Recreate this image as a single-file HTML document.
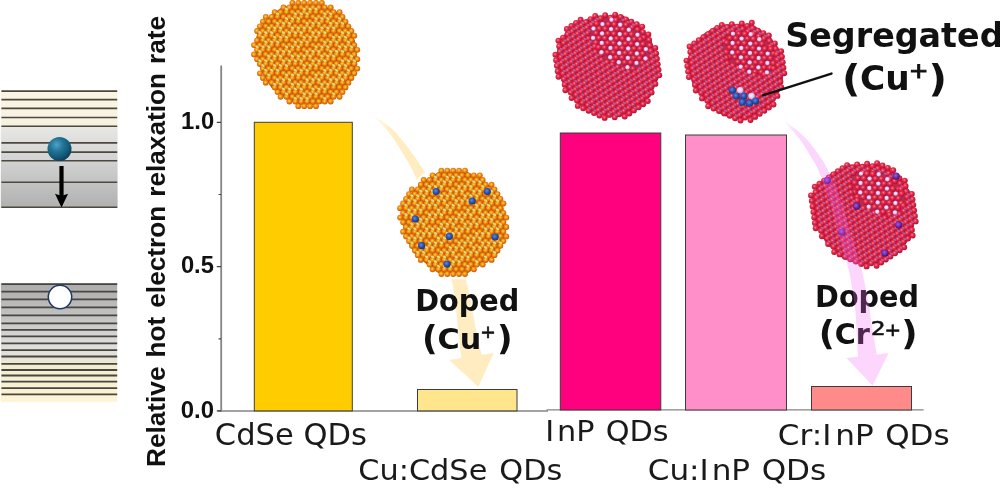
<!DOCTYPE html>
<html lang="en"><head><meta charset="utf-8"><title>Relative hot electron relaxation rate</title>
<style>
html,body{margin:0;padding:0;background:#fff;}
body{width:1000px;height:488px;overflow:hidden;}
svg{display:block;}
.ax{font-family:"Liberation Sans","DejaVu Sans",sans-serif;font-weight:bold;fill:#111;}
.lab{font-family:"DejaVu Sans","Liberation Sans",sans-serif;fill:#1a1a1a;}
.ann{font-family:"DejaVu Sans","Liberation Sans",sans-serif;font-weight:bold;fill:#111;}

.sup2{font-family:"DejaVu Sans","Liberation Sans",sans-serif;fill:#111;stroke:#111;stroke-width:1.1px;}
.sup{font-family:"DejaVu Sans","Liberation Sans",sans-serif;fill:#111;stroke:#111;stroke-width:0.6px;}
</style></head><body>
<svg width="1000" height="488" viewBox="0 0 1000 488">
<defs>
<linearGradient id="gt" x1="0" y1="0" x2="0" y2="1"><stop offset="0" stop-color="#fbf6e4"/><stop offset="0.29" stop-color="#f6f1e0"/><stop offset="0.33" stop-color="#e6e6e3"/><stop offset="0.6" stop-color="#d2d2d2"/><stop offset="1" stop-color="#b0b0b0"/></linearGradient>
<linearGradient id="gb" x1="0" y1="0" x2="0" y2="1"><stop offset="0" stop-color="#acacac"/><stop offset="0.3" stop-color="#c4c4c4"/><stop offset="0.5" stop-color="#dcdcdc"/><stop offset="0.62" stop-color="#e4e2d8"/><stop offset="0.7" stop-color="#f2ecd2"/><stop offset="1" stop-color="#fff5d6"/></linearGradient>
<radialGradient id="gball" cx="0.38" cy="0.33" r="0.68"><stop offset="0" stop-color="#4fa3c8"/><stop offset="0.4" stop-color="#237598"/><stop offset="0.8" stop-color="#125776"/><stop offset="1" stop-color="#0b405a"/></radialGradient>
<radialGradient id="go" cx="0.45" cy="0.42" r="0.58"><stop offset="0" stop-color="#ffd648"/><stop offset="0.28" stop-color="#fbaa22"/><stop offset="0.62" stop-color="#e67a0e"/><stop offset="1" stop-color="#c45a06"/></radialGradient>
<radialGradient id="gr" cx="0.42" cy="0.38" r="0.62"><stop offset="0" stop-color="#ff98a2"/><stop offset="0.18" stop-color="#f85870"/><stop offset="0.42" stop-color="#e42a4a"/><stop offset="0.75" stop-color="#cc1a3c"/><stop offset="1" stop-color="#9c1034"/></radialGradient>
<radialGradient id="gbl" cx="0.42" cy="0.4" r="0.6"><stop offset="0" stop-color="#5a8ae0"/><stop offset="0.6" stop-color="#2450b0"/><stop offset="1" stop-color="#163680"/></radialGradient>
<radialGradient id="gp" cx="0.42" cy="0.4" r="0.6"><stop offset="0" stop-color="#a060d8"/><stop offset="0.6" stop-color="#6a28a8"/><stop offset="1" stop-color="#401070"/></radialGradient>
<circle id="o" r="2.9" fill="url(#go)"/>
<ellipse id="g" rx="1.9" ry="1.2" transform="rotate(30)" fill="#d8dc80"/>
<circle id="r" r="2.95" fill="url(#gr)"/>
<ellipse id="l" rx="1.7" ry="1.0" transform="rotate(24)" fill="#ac64a0"/>
<radialGradient id="gL" cx="0.45" cy="0.42" r="0.6"><stop offset="0" stop-color="#fbf2ff"/><stop offset="0.6" stop-color="#e4c8f4"/><stop offset="1" stop-color="#b890d0"/></radialGradient>
<circle id="L" r="2.2" fill="url(#gL)"/>
<circle id="b" r="3.6" fill="url(#gbl)"/>
<circle id="lb" r="3.3" fill="url(#gL)"/>
<circle id="p" r="3.6" fill="url(#gp)"/>
<linearGradient id="gy" gradientUnits="userSpaceOnUse" x1="373" y1="114" x2="400" y2="146"><stop offset="0" stop-color="#ffecc0" stop-opacity="0.1"/><stop offset="0.5" stop-color="#ffecc0" stop-opacity="0.85"/><stop offset="1" stop-color="#ffecc0" stop-opacity="1"/></linearGradient>
<linearGradient id="gpk" gradientUnits="userSpaceOnUse" x1="784" y1="120" x2="806" y2="146"><stop offset="0" stop-color="#f466f4" stop-opacity="0.03"/><stop offset="0.4" stop-color="#f466f4" stop-opacity="0.22"/><stop offset="1" stop-color="#f466f4" stop-opacity="0.27"/></linearGradient>
</defs>

<!-- energy level diagram -->
<rect x="0.8" y="90.3" width="116.8" height="117.6" fill="url(#gt)"/>
<g stroke="#4c4840" stroke-width="1.6"><line x1="1.4" x2="117.2" y1="91.1" y2="91.1"/><line x1="1.4" x2="117.2" y1="99.6" y2="99.6"/><line x1="1.4" x2="117.2" y1="108.4" y2="108.4"/><line x1="1.4" x2="117.2" y1="117.5" y2="117.5"/><line x1="1.4" x2="117.2" y1="126.3" y2="126.3"/><line x1="1.4" x2="117.2" y1="142.9" y2="142.9"/><line x1="1.4" x2="117.2" y1="152.1" y2="152.1"/><line x1="1.4" x2="117.2" y1="160.8" y2="160.8"/><line x1="1.4" x2="117.2" y1="182.2" y2="182.2"/><line x1="1.4" x2="117.2" y1="207.2" y2="207.2"/></g>
<rect x="0.8" y="283.3" width="116.4" height="118.6" fill="url(#gb)"/>
<g stroke="#48463f" stroke-width="1.8"><line x1="1.4" x2="117.2" y1="284.2" y2="284.2"/><line x1="1.4" x2="117.2" y1="291.7" y2="291.7"/><line x1="1.4" x2="117.2" y1="299.3" y2="299.3"/><line x1="1.4" x2="117.2" y1="307.3" y2="307.3"/><line x1="1.4" x2="117.2" y1="315.4" y2="315.4"/><line x1="1.4" x2="117.2" y1="323.3" y2="323.3"/><line x1="1.4" x2="117.2" y1="329.9" y2="329.9"/><line x1="1.4" x2="117.2" y1="336.4" y2="336.4"/><line x1="1.4" x2="117.2" y1="343.3" y2="343.3"/><line x1="1.4" x2="117.2" y1="350.1" y2="350.1"/><line x1="1.4" x2="117.2" y1="356.5" y2="356.5"/><line x1="1.4" x2="117.2" y1="363.8" y2="363.8"/><line x1="1.4" x2="117.2" y1="370" y2="370"/><line x1="1.4" x2="117.2" y1="375.5" y2="375.5"/><line x1="1.4" x2="117.2" y1="381.7" y2="381.7"/><line x1="1.4" x2="117.2" y1="388.1" y2="388.1"/><line x1="1.4" x2="117.2" y1="394.3" y2="394.3"/></g>
<circle cx="59.5" cy="148.9" r="12" fill="url(#gball)"/>
<path d="M59.4 166 H63.6 V195.2 L68.1 193.8 L61.5 207.4 L55 193.8 L59.4 195.2 Z" fill="#000"/>
<circle cx="60" cy="297" r="11.7" fill="#fff" stroke="#1f3864" stroke-width="1.5"/>

<!-- axes -->
<g stroke="#858585" fill="none">
<path d="M221.2 65.5 V411.7" stroke-width="1.8"/>
<path d="M217.8 411 H548" stroke-width="1.4"/>
<path d="M546.5 409.8 H923.6" stroke-width="1.2"/>
</g>
<g stroke="#444" stroke-width="1.2">
<path d="M216.8 122.3 H221 M216.8 266.7 H221 M216.8 410.9 H221 M218.6 194.5 H221 M218.6 338.8 H221"/>
</g>

<!-- bars -->
<g stroke="#3c3c3c" stroke-width="1">
<rect x="254.3" y="122.3" width="98" height="288.6" fill="#ffcc00"/>
<rect x="417.5" y="389.5" width="99.5" height="21.4" fill="#ffe58c"/>
<rect x="560.3" y="133" width="100.5" height="277" fill="#ff007f"/>
<rect x="685.5" y="135" width="101" height="275" fill="#ff8fc9"/>
<rect x="811.5" y="386.5" width="100" height="23.5" fill="#ff8a8a"/>
</g>

<!-- yellow arrow (behind dots and labels) -->
<path d="M372.9 114.9 L373.3 115.4 L373.9 115.9 L374.5 116.6 L375.3 117.3 L376.0 118.1 L376.9 119.0 L377.7 119.9 L378.6 120.8 L379.5 121.7 L380.4 122.7 L381.2 123.6 L382.0 124.5 L382.8 125.4 L383.6 126.3 L384.5 127.3 L385.3 128.2 L386.1 129.1 L386.9 130.1 L387.7 131.0 L388.5 132.1 L389.4 133.1 L390.2 134.2 L391.0 135.3 L391.9 136.5 L392.8 137.8 L393.7 139.1 L394.7 140.5 L395.7 142.0 L396.7 143.5 L397.6 145.0 L398.6 146.6 L399.6 148.1 L400.6 149.7 L401.6 151.3 L402.5 152.8 L403.5 154.3 L404.3 155.8 L405.2 157.3 L406.1 158.8 L406.9 160.2 L407.8 161.7 L408.6 163.1 L409.4 164.6 L410.2 166.1 L411.0 167.5 L411.8 169.0 L412.6 170.5 L413.3 172.0 L414.1 173.5 L414.8 174.9 L415.5 176.4 L416.2 177.8 L416.9 179.3 L417.6 180.8 L418.3 182.2 L419.0 183.8 L419.8 185.4 L420.5 187.0 L421.3 188.6 L422.1 190.4 L422.9 192.2 L423.7 194.0 L424.6 195.8 L425.4 197.6 L426.3 199.5 L427.1 201.4 L428.0 203.3 L428.9 205.3 L429.8 207.4 L430.6 209.5 L431.5 211.8 L432.4 214.2 L433.3 216.7 L434.2 219.4 L435.2 222.3 L436.2 225.3 L437.2 228.3 L438.1 231.5 L439.1 234.6 L440.1 237.8 L441.0 240.9 L442.0 244.0 L442.8 247.0 L443.7 249.9 L444.5 252.7 L445.3 255.5 L446.1 258.3 L446.8 261.1 L447.6 263.8 L448.3 266.5 L449.0 269.1 L449.7 271.7 L450.3 274.3 L450.9 276.8 L451.5 279.2 L452.0 281.6 L452.5 283.9 L452.9 286.1 L453.3 288.2 L453.6 290.3 L453.9 292.3 L454.2 294.3 L454.5 296.3 L454.8 298.2 L455.0 300.2 L455.3 302.2 L455.5 304.2 L455.8 306.3 L456.0 308.2 L456.3 310.2 L456.5 312.1 L456.7 314.0 L456.9 316.0 L457.0 317.9 L457.2 319.9 L457.4 321.9 L457.6 323.9 L457.8 326.0 L458.0 328.1 L458.3 330.3 L458.5 332.6 L458.8 335.1 L459.1 337.7 L459.4 340.4 L459.7 343.1 L460.0 345.8 L460.2 348.4 L460.5 350.9 L460.8 353.1 L461.0 355.1 L461.2 356.8 L461.3 358.2 L449.2 360.0 L478.4 386.9 L493.7 353.0 L481.5 354.8 L481.2 353.5 L480.8 351.8 L480.4 349.8 L479.9 347.6 L479.3 345.2 L478.8 342.7 L478.2 340.1 L477.6 337.4 L477.0 334.8 L476.5 332.3 L476.0 329.9 L475.5 327.7 L475.1 325.6 L474.8 323.6 L474.4 321.6 L474.0 319.7 L473.7 317.7 L473.4 315.8 L473.0 313.8 L472.7 311.8 L472.4 309.9 L472.0 307.8 L471.6 305.8 L471.2 303.7 L470.8 301.7 L470.4 299.7 L470.0 297.7 L469.6 295.8 L469.2 293.7 L468.7 291.7 L468.3 289.6 L467.8 287.5 L467.3 285.3 L466.8 283.1 L466.2 280.8 L465.6 278.4 L465.0 275.9 L464.3 273.4 L463.6 270.9 L462.9 268.3 L462.2 265.6 L461.4 262.9 L460.6 260.1 L459.8 257.4 L459.0 254.6 L458.1 251.8 L457.2 248.9 L456.3 246.1 L455.4 243.2 L454.4 240.2 L453.4 237.1 L452.3 233.9 L451.2 230.7 L450.1 227.5 L449.0 224.4 L447.9 221.3 L446.8 218.2 L445.7 215.3 L444.6 212.5 L443.6 209.8 L442.6 207.3 L441.5 205.0 L440.5 202.7 L439.5 200.5 L438.5 198.4 L437.5 196.4 L436.6 194.5 L435.6 192.6 L434.7 190.8 L433.7 189.1 L432.8 187.3 L431.9 185.6 L431.1 183.9 L430.2 182.2 L429.3 180.6 L428.5 179.1 L427.7 177.5 L426.9 176.0 L426.0 174.5 L425.2 173.1 L424.3 171.6 L423.5 170.2 L422.6 168.7 L421.7 167.2 L420.7 165.7 L419.8 164.3 L418.8 162.8 L417.9 161.4 L416.9 160.0 L415.9 158.5 L414.9 157.1 L413.9 155.7 L412.9 154.3 L411.8 152.9 L410.8 151.5 L409.7 150.1 L408.7 148.6 L407.6 147.2 L406.4 145.7 L405.3 144.2 L404.1 142.7 L403.0 141.2 L401.8 139.7 L400.6 138.3 L399.5 136.9 L398.3 135.6 L397.2 134.3 L396.1 133.1 L395.0 131.9 L393.9 130.9 L392.9 129.9 L391.8 128.9 L390.8 128.0 L389.8 127.1 L388.8 126.3 L387.8 125.5 L386.8 124.7 L385.9 124.0 L384.9 123.2 L384.0 122.5 L383.0 121.7 L381.9 120.9 L380.9 120.1 L379.8 119.4 L378.8 118.6 L377.8 117.9 L376.8 117.2 L375.9 116.6 L375.0 116.0 L374.3 115.5 L373.6 115.1 L373.1 114.7 Z" fill="url(#gy)"/>
<!-- quantum dots -->
<g id="qd-cdse"><polygon points="291.7,4.4 320.2,4.4 335.1,10.8 345.7,20.2 352.0,30.8 356.2,45.6 357.2,64.6 349.9,81.6 337.1,96.3 326.6,102.7 314.0,104.7 299.1,104.7 286.4,99.6 271.6,87.9 262.1,73.2 255.8,56.2 254.8,43.5 257.9,30.9 267.4,18.2 280.1,8.6" fill="#b85406"/>
<use href="#o" x="292.4" y="2.8"/>
<use href="#o" x="298.3" y="2.8"/>
<use href="#o" x="304.2" y="2.8"/>
<use href="#o" x="310.1" y="2.8"/>
<use href="#o" x="316.0" y="2.8"/>
<use href="#o" x="321.9" y="2.8"/>
<use href="#o" x="283.5" y="7.5"/>
<use href="#o" x="289.4" y="7.5"/>
<use href="#o" x="295.3" y="7.5"/>
<use href="#o" x="301.2" y="7.5"/>
<use href="#o" x="307.1" y="7.5"/>
<use href="#o" x="313.0" y="7.5"/>
<use href="#o" x="318.9" y="7.5"/>
<use href="#o" x="324.8" y="7.5"/>
<use href="#o" x="330.7" y="7.5"/>
<use href="#o" x="274.7" y="12.2"/>
<use href="#o" x="280.6" y="12.2"/>
<use href="#o" x="286.5" y="12.2"/>
<use href="#o" x="292.4" y="12.2"/>
<use href="#o" x="298.3" y="12.2"/>
<use href="#o" x="304.2" y="12.2"/>
<use href="#o" x="310.1" y="12.2"/>
<use href="#o" x="316.0" y="12.2"/>
<use href="#o" x="321.9" y="12.2"/>
<use href="#o" x="327.8" y="12.2"/>
<use href="#o" x="333.7" y="12.2"/>
<use href="#o" x="339.6" y="12.2"/>
<use href="#o" x="265.8" y="16.9"/>
<use href="#o" x="271.7" y="16.9"/>
<use href="#o" x="277.6" y="16.9"/>
<use href="#o" x="283.5" y="16.9"/>
<use href="#o" x="289.4" y="16.9"/>
<use href="#o" x="295.3" y="16.9"/>
<use href="#o" x="301.2" y="16.9"/>
<use href="#o" x="307.1" y="16.9"/>
<use href="#o" x="313.0" y="16.9"/>
<use href="#o" x="318.9" y="16.9"/>
<use href="#o" x="324.8" y="16.9"/>
<use href="#o" x="330.7" y="16.9"/>
<use href="#o" x="336.6" y="16.9"/>
<use href="#o" x="342.5" y="16.9"/>
<use href="#o" x="262.9" y="21.6"/>
<use href="#o" x="268.8" y="21.6"/>
<use href="#o" x="274.7" y="21.6"/>
<use href="#o" x="280.6" y="21.6"/>
<use href="#o" x="286.5" y="21.6"/>
<use href="#o" x="292.4" y="21.6"/>
<use href="#o" x="298.3" y="21.6"/>
<use href="#o" x="304.2" y="21.6"/>
<use href="#o" x="310.1" y="21.6"/>
<use href="#o" x="316.0" y="21.6"/>
<use href="#o" x="321.9" y="21.6"/>
<use href="#o" x="327.8" y="21.6"/>
<use href="#o" x="333.7" y="21.6"/>
<use href="#o" x="339.6" y="21.6"/>
<use href="#o" x="345.5" y="21.6"/>
<use href="#o" x="259.9" y="26.3"/>
<use href="#o" x="265.8" y="26.3"/>
<use href="#o" x="271.7" y="26.3"/>
<use href="#o" x="277.6" y="26.3"/>
<use href="#o" x="283.5" y="26.3"/>
<use href="#o" x="289.4" y="26.3"/>
<use href="#o" x="295.3" y="26.3"/>
<use href="#o" x="301.2" y="26.3"/>
<use href="#o" x="307.1" y="26.3"/>
<use href="#o" x="313.0" y="26.3"/>
<use href="#o" x="318.9" y="26.3"/>
<use href="#o" x="324.8" y="26.3"/>
<use href="#o" x="330.7" y="26.3"/>
<use href="#o" x="336.6" y="26.3"/>
<use href="#o" x="342.5" y="26.3"/>
<use href="#o" x="348.4" y="26.3"/>
<use href="#o" x="257.0" y="31.0"/>
<use href="#o" x="262.9" y="31.0"/>
<use href="#o" x="268.8" y="31.0"/>
<use href="#o" x="274.7" y="31.0"/>
<use href="#o" x="280.6" y="31.0"/>
<use href="#o" x="286.5" y="31.0"/>
<use href="#o" x="292.4" y="31.0"/>
<use href="#o" x="298.3" y="31.0"/>
<use href="#o" x="304.2" y="31.0"/>
<use href="#o" x="310.1" y="31.0"/>
<use href="#o" x="316.0" y="31.0"/>
<use href="#o" x="321.9" y="31.0"/>
<use href="#o" x="327.8" y="31.0"/>
<use href="#o" x="333.7" y="31.0"/>
<use href="#o" x="339.6" y="31.0"/>
<use href="#o" x="345.5" y="31.0"/>
<use href="#o" x="351.4" y="31.0"/>
<use href="#o" x="259.9" y="35.7"/>
<use href="#o" x="265.8" y="35.7"/>
<use href="#o" x="271.7" y="35.7"/>
<use href="#o" x="277.6" y="35.7"/>
<use href="#o" x="283.5" y="35.7"/>
<use href="#o" x="289.4" y="35.7"/>
<use href="#o" x="295.3" y="35.7"/>
<use href="#o" x="301.2" y="35.7"/>
<use href="#o" x="307.1" y="35.7"/>
<use href="#o" x="313.0" y="35.7"/>
<use href="#o" x="318.9" y="35.7"/>
<use href="#o" x="324.8" y="35.7"/>
<use href="#o" x="330.7" y="35.7"/>
<use href="#o" x="336.6" y="35.7"/>
<use href="#o" x="342.5" y="35.7"/>
<use href="#o" x="348.4" y="35.7"/>
<use href="#o" x="354.3" y="35.7"/>
<use href="#o" x="257.0" y="40.4"/>
<use href="#o" x="262.9" y="40.4"/>
<use href="#o" x="268.8" y="40.4"/>
<use href="#o" x="274.7" y="40.4"/>
<use href="#o" x="280.6" y="40.4"/>
<use href="#o" x="286.5" y="40.4"/>
<use href="#o" x="292.4" y="40.4"/>
<use href="#o" x="298.3" y="40.4"/>
<use href="#o" x="304.2" y="40.4"/>
<use href="#o" x="310.1" y="40.4"/>
<use href="#o" x="316.0" y="40.4"/>
<use href="#o" x="321.9" y="40.4"/>
<use href="#o" x="327.8" y="40.4"/>
<use href="#o" x="333.7" y="40.4"/>
<use href="#o" x="339.6" y="40.4"/>
<use href="#o" x="345.5" y="40.4"/>
<use href="#o" x="351.4" y="40.4"/>
<use href="#o" x="254.0" y="45.1"/>
<use href="#o" x="259.9" y="45.1"/>
<use href="#o" x="265.8" y="45.1"/>
<use href="#o" x="271.7" y="45.1"/>
<use href="#o" x="277.6" y="45.1"/>
<use href="#o" x="283.5" y="45.1"/>
<use href="#o" x="289.4" y="45.1"/>
<use href="#o" x="295.3" y="45.1"/>
<use href="#o" x="301.2" y="45.1"/>
<use href="#o" x="307.1" y="45.1"/>
<use href="#o" x="313.0" y="45.1"/>
<use href="#o" x="318.9" y="45.1"/>
<use href="#o" x="324.8" y="45.1"/>
<use href="#o" x="330.7" y="45.1"/>
<use href="#o" x="336.6" y="45.1"/>
<use href="#o" x="342.5" y="45.1"/>
<use href="#o" x="348.4" y="45.1"/>
<use href="#o" x="354.3" y="45.1"/>
<use href="#o" x="257.0" y="49.8"/>
<use href="#o" x="262.9" y="49.8"/>
<use href="#o" x="268.8" y="49.8"/>
<use href="#o" x="274.7" y="49.8"/>
<use href="#o" x="280.6" y="49.8"/>
<use href="#o" x="286.5" y="49.8"/>
<use href="#o" x="292.4" y="49.8"/>
<use href="#o" x="298.3" y="49.8"/>
<use href="#o" x="304.2" y="49.8"/>
<use href="#o" x="310.1" y="49.8"/>
<use href="#o" x="316.0" y="49.8"/>
<use href="#o" x="321.9" y="49.8"/>
<use href="#o" x="327.8" y="49.8"/>
<use href="#o" x="333.7" y="49.8"/>
<use href="#o" x="339.6" y="49.8"/>
<use href="#o" x="345.5" y="49.8"/>
<use href="#o" x="351.4" y="49.8"/>
<use href="#o" x="357.3" y="49.8"/>
<use href="#o" x="254.0" y="54.5"/>
<use href="#o" x="259.9" y="54.5"/>
<use href="#o" x="265.8" y="54.5"/>
<use href="#o" x="271.7" y="54.5"/>
<use href="#o" x="277.6" y="54.5"/>
<use href="#o" x="283.5" y="54.5"/>
<use href="#o" x="289.4" y="54.5"/>
<use href="#o" x="295.3" y="54.5"/>
<use href="#o" x="301.2" y="54.5"/>
<use href="#o" x="307.1" y="54.5"/>
<use href="#o" x="313.0" y="54.5"/>
<use href="#o" x="318.9" y="54.5"/>
<use href="#o" x="324.8" y="54.5"/>
<use href="#o" x="330.7" y="54.5"/>
<use href="#o" x="336.6" y="54.5"/>
<use href="#o" x="342.5" y="54.5"/>
<use href="#o" x="348.4" y="54.5"/>
<use href="#o" x="354.3" y="54.5"/>
<use href="#o" x="257.0" y="59.2"/>
<use href="#o" x="262.9" y="59.2"/>
<use href="#o" x="268.8" y="59.2"/>
<use href="#o" x="274.7" y="59.2"/>
<use href="#o" x="280.6" y="59.2"/>
<use href="#o" x="286.5" y="59.2"/>
<use href="#o" x="292.4" y="59.2"/>
<use href="#o" x="298.3" y="59.2"/>
<use href="#o" x="304.2" y="59.2"/>
<use href="#o" x="310.1" y="59.2"/>
<use href="#o" x="316.0" y="59.2"/>
<use href="#o" x="321.9" y="59.2"/>
<use href="#o" x="327.8" y="59.2"/>
<use href="#o" x="333.7" y="59.2"/>
<use href="#o" x="339.6" y="59.2"/>
<use href="#o" x="345.5" y="59.2"/>
<use href="#o" x="351.4" y="59.2"/>
<use href="#o" x="357.3" y="59.2"/>
<use href="#o" x="259.9" y="63.9"/>
<use href="#o" x="265.8" y="63.9"/>
<use href="#o" x="271.7" y="63.9"/>
<use href="#o" x="277.6" y="63.9"/>
<use href="#o" x="283.5" y="63.9"/>
<use href="#o" x="289.4" y="63.9"/>
<use href="#o" x="295.3" y="63.9"/>
<use href="#o" x="301.2" y="63.9"/>
<use href="#o" x="307.1" y="63.9"/>
<use href="#o" x="313.0" y="63.9"/>
<use href="#o" x="318.9" y="63.9"/>
<use href="#o" x="324.8" y="63.9"/>
<use href="#o" x="330.7" y="63.9"/>
<use href="#o" x="336.6" y="63.9"/>
<use href="#o" x="342.5" y="63.9"/>
<use href="#o" x="348.4" y="63.9"/>
<use href="#o" x="354.3" y="63.9"/>
<use href="#o" x="262.9" y="68.6"/>
<use href="#o" x="268.8" y="68.6"/>
<use href="#o" x="274.7" y="68.6"/>
<use href="#o" x="280.6" y="68.6"/>
<use href="#o" x="286.5" y="68.6"/>
<use href="#o" x="292.4" y="68.6"/>
<use href="#o" x="298.3" y="68.6"/>
<use href="#o" x="304.2" y="68.6"/>
<use href="#o" x="310.1" y="68.6"/>
<use href="#o" x="316.0" y="68.6"/>
<use href="#o" x="321.9" y="68.6"/>
<use href="#o" x="327.8" y="68.6"/>
<use href="#o" x="333.7" y="68.6"/>
<use href="#o" x="339.6" y="68.6"/>
<use href="#o" x="345.5" y="68.6"/>
<use href="#o" x="351.4" y="68.6"/>
<use href="#o" x="357.3" y="68.6"/>
<use href="#o" x="259.9" y="73.3"/>
<use href="#o" x="265.8" y="73.3"/>
<use href="#o" x="271.7" y="73.3"/>
<use href="#o" x="277.6" y="73.3"/>
<use href="#o" x="283.5" y="73.3"/>
<use href="#o" x="289.4" y="73.3"/>
<use href="#o" x="295.3" y="73.3"/>
<use href="#o" x="301.2" y="73.3"/>
<use href="#o" x="307.1" y="73.3"/>
<use href="#o" x="313.0" y="73.3"/>
<use href="#o" x="318.9" y="73.3"/>
<use href="#o" x="324.8" y="73.3"/>
<use href="#o" x="330.7" y="73.3"/>
<use href="#o" x="336.6" y="73.3"/>
<use href="#o" x="342.5" y="73.3"/>
<use href="#o" x="348.4" y="73.3"/>
<use href="#o" x="354.3" y="73.3"/>
<use href="#o" x="262.9" y="78.0"/>
<use href="#o" x="268.8" y="78.0"/>
<use href="#o" x="274.7" y="78.0"/>
<use href="#o" x="280.6" y="78.0"/>
<use href="#o" x="286.5" y="78.0"/>
<use href="#o" x="292.4" y="78.0"/>
<use href="#o" x="298.3" y="78.0"/>
<use href="#o" x="304.2" y="78.0"/>
<use href="#o" x="310.1" y="78.0"/>
<use href="#o" x="316.0" y="78.0"/>
<use href="#o" x="321.9" y="78.0"/>
<use href="#o" x="327.8" y="78.0"/>
<use href="#o" x="333.7" y="78.0"/>
<use href="#o" x="339.6" y="78.0"/>
<use href="#o" x="345.5" y="78.0"/>
<use href="#o" x="351.4" y="78.0"/>
<use href="#o" x="265.8" y="82.7"/>
<use href="#o" x="271.7" y="82.7"/>
<use href="#o" x="277.6" y="82.7"/>
<use href="#o" x="283.5" y="82.7"/>
<use href="#o" x="289.4" y="82.7"/>
<use href="#o" x="295.3" y="82.7"/>
<use href="#o" x="301.2" y="82.7"/>
<use href="#o" x="307.1" y="82.7"/>
<use href="#o" x="313.0" y="82.7"/>
<use href="#o" x="318.9" y="82.7"/>
<use href="#o" x="324.8" y="82.7"/>
<use href="#o" x="330.7" y="82.7"/>
<use href="#o" x="336.6" y="82.7"/>
<use href="#o" x="342.5" y="82.7"/>
<use href="#o" x="348.4" y="82.7"/>
<use href="#o" x="274.7" y="87.4"/>
<use href="#o" x="280.6" y="87.4"/>
<use href="#o" x="286.5" y="87.4"/>
<use href="#o" x="292.4" y="87.4"/>
<use href="#o" x="298.3" y="87.4"/>
<use href="#o" x="304.2" y="87.4"/>
<use href="#o" x="310.1" y="87.4"/>
<use href="#o" x="316.0" y="87.4"/>
<use href="#o" x="321.9" y="87.4"/>
<use href="#o" x="327.8" y="87.4"/>
<use href="#o" x="333.7" y="87.4"/>
<use href="#o" x="339.6" y="87.4"/>
<use href="#o" x="345.5" y="87.4"/>
<use href="#o" x="277.6" y="92.1"/>
<use href="#o" x="283.5" y="92.1"/>
<use href="#o" x="289.4" y="92.1"/>
<use href="#o" x="295.3" y="92.1"/>
<use href="#o" x="301.2" y="92.1"/>
<use href="#o" x="307.1" y="92.1"/>
<use href="#o" x="313.0" y="92.1"/>
<use href="#o" x="318.9" y="92.1"/>
<use href="#o" x="324.8" y="92.1"/>
<use href="#o" x="330.7" y="92.1"/>
<use href="#o" x="336.6" y="92.1"/>
<use href="#o" x="342.5" y="92.1"/>
<use href="#o" x="280.6" y="96.8"/>
<use href="#o" x="286.5" y="96.8"/>
<use href="#o" x="292.4" y="96.8"/>
<use href="#o" x="298.3" y="96.8"/>
<use href="#o" x="304.2" y="96.8"/>
<use href="#o" x="310.1" y="96.8"/>
<use href="#o" x="316.0" y="96.8"/>
<use href="#o" x="321.9" y="96.8"/>
<use href="#o" x="327.8" y="96.8"/>
<use href="#o" x="333.7" y="96.8"/>
<use href="#o" x="339.6" y="96.8"/>
<use href="#o" x="289.4" y="101.5"/>
<use href="#o" x="295.3" y="101.5"/>
<use href="#o" x="301.2" y="101.5"/>
<use href="#o" x="307.1" y="101.5"/>
<use href="#o" x="313.0" y="101.5"/>
<use href="#o" x="318.9" y="101.5"/>
<use href="#o" x="324.8" y="101.5"/>
<use href="#o" x="330.7" y="101.5"/>
<use href="#o" x="298.3" y="106.2"/>
<use href="#o" x="304.2" y="106.2"/>
<use href="#o" x="310.1" y="106.2"/>
<use href="#o" x="316.0" y="106.2"/>
<use href="#g" x="286.5" y="9.1"/>
<use href="#g" x="304.2" y="9.1"/>
<use href="#g" x="310.1" y="9.1"/>
<use href="#g" x="316.0" y="9.1"/>
<use href="#g" x="277.6" y="13.8"/>
<use href="#g" x="295.3" y="13.8"/>
<use href="#g" x="301.2" y="13.8"/>
<use href="#g" x="307.1" y="13.8"/>
<use href="#g" x="324.8" y="13.8"/>
<use href="#g" x="330.7" y="13.8"/>
<use href="#g" x="286.5" y="18.5"/>
<use href="#g" x="292.4" y="18.5"/>
<use href="#g" x="298.3" y="18.5"/>
<use href="#g" x="316.0" y="18.5"/>
<use href="#g" x="321.9" y="18.5"/>
<use href="#g" x="327.8" y="18.5"/>
<use href="#g" x="339.6" y="18.5"/>
<use href="#g" x="277.6" y="23.2"/>
<use href="#g" x="283.5" y="23.2"/>
<use href="#g" x="289.4" y="23.2"/>
<use href="#g" x="307.1" y="23.2"/>
<use href="#g" x="313.0" y="23.2"/>
<use href="#g" x="318.9" y="23.2"/>
<use href="#g" x="330.7" y="23.2"/>
<use href="#g" x="336.6" y="23.2"/>
<use href="#g" x="342.5" y="23.2"/>
<use href="#g" x="268.8" y="27.9"/>
<use href="#g" x="274.7" y="27.9"/>
<use href="#g" x="280.6" y="27.9"/>
<use href="#g" x="292.4" y="27.9"/>
<use href="#g" x="298.3" y="27.9"/>
<use href="#g" x="304.2" y="27.9"/>
<use href="#g" x="310.1" y="27.9"/>
<use href="#g" x="321.9" y="27.9"/>
<use href="#g" x="327.8" y="27.9"/>
<use href="#g" x="333.7" y="27.9"/>
<use href="#g" x="259.9" y="32.6"/>
<use href="#g" x="265.8" y="32.6"/>
<use href="#g" x="271.7" y="32.6"/>
<use href="#g" x="283.5" y="32.6"/>
<use href="#g" x="289.4" y="32.6"/>
<use href="#g" x="295.3" y="32.6"/>
<use href="#g" x="301.2" y="32.6"/>
<use href="#g" x="313.0" y="32.6"/>
<use href="#g" x="318.9" y="32.6"/>
<use href="#g" x="324.8" y="32.6"/>
<use href="#g" x="342.5" y="32.6"/>
<use href="#g" x="348.4" y="32.6"/>
<use href="#g" x="262.9" y="37.3"/>
<use href="#g" x="274.7" y="37.3"/>
<use href="#g" x="280.6" y="37.3"/>
<use href="#g" x="286.5" y="37.3"/>
<use href="#g" x="304.2" y="37.3"/>
<use href="#g" x="310.1" y="37.3"/>
<use href="#g" x="316.0" y="37.3"/>
<use href="#g" x="333.7" y="37.3"/>
<use href="#g" x="339.6" y="37.3"/>
<use href="#g" x="345.5" y="37.3"/>
<use href="#g" x="265.8" y="42.0"/>
<use href="#g" x="271.7" y="42.0"/>
<use href="#g" x="277.6" y="42.0"/>
<use href="#g" x="295.3" y="42.0"/>
<use href="#g" x="301.2" y="42.0"/>
<use href="#g" x="307.1" y="42.0"/>
<use href="#g" x="324.8" y="42.0"/>
<use href="#g" x="330.7" y="42.0"/>
<use href="#g" x="336.6" y="42.0"/>
<use href="#g" x="348.4" y="42.0"/>
<use href="#g" x="257.0" y="46.7"/>
<use href="#g" x="262.9" y="46.7"/>
<use href="#g" x="268.8" y="46.7"/>
<use href="#g" x="286.5" y="46.7"/>
<use href="#g" x="292.4" y="46.7"/>
<use href="#g" x="298.3" y="46.7"/>
<use href="#g" x="316.0" y="46.7"/>
<use href="#g" x="321.9" y="46.7"/>
<use href="#g" x="327.8" y="46.7"/>
<use href="#g" x="339.6" y="46.7"/>
<use href="#g" x="345.5" y="46.7"/>
<use href="#g" x="351.4" y="46.7"/>
<use href="#g" x="259.9" y="51.4"/>
<use href="#g" x="277.6" y="51.4"/>
<use href="#g" x="283.5" y="51.4"/>
<use href="#g" x="289.4" y="51.4"/>
<use href="#g" x="307.1" y="51.4"/>
<use href="#g" x="313.0" y="51.4"/>
<use href="#g" x="318.9" y="51.4"/>
<use href="#g" x="330.7" y="51.4"/>
<use href="#g" x="336.6" y="51.4"/>
<use href="#g" x="342.5" y="51.4"/>
<use href="#g" x="268.8" y="56.1"/>
<use href="#g" x="274.7" y="56.1"/>
<use href="#g" x="280.6" y="56.1"/>
<use href="#g" x="292.4" y="56.1"/>
<use href="#g" x="298.3" y="56.1"/>
<use href="#g" x="304.2" y="56.1"/>
<use href="#g" x="310.1" y="56.1"/>
<use href="#g" x="321.9" y="56.1"/>
<use href="#g" x="327.8" y="56.1"/>
<use href="#g" x="333.7" y="56.1"/>
<use href="#g" x="351.4" y="56.1"/>
<use href="#g" x="259.9" y="60.8"/>
<use href="#g" x="265.8" y="60.8"/>
<use href="#g" x="271.7" y="60.8"/>
<use href="#g" x="283.5" y="60.8"/>
<use href="#g" x="289.4" y="60.8"/>
<use href="#g" x="295.3" y="60.8"/>
<use href="#g" x="301.2" y="60.8"/>
<use href="#g" x="313.0" y="60.8"/>
<use href="#g" x="318.9" y="60.8"/>
<use href="#g" x="324.8" y="60.8"/>
<use href="#g" x="342.5" y="60.8"/>
<use href="#g" x="348.4" y="60.8"/>
<use href="#g" x="354.3" y="60.8"/>
<use href="#g" x="262.9" y="65.5"/>
<use href="#g" x="274.7" y="65.5"/>
<use href="#g" x="280.6" y="65.5"/>
<use href="#g" x="286.5" y="65.5"/>
<use href="#g" x="304.2" y="65.5"/>
<use href="#g" x="310.1" y="65.5"/>
<use href="#g" x="316.0" y="65.5"/>
<use href="#g" x="333.7" y="65.5"/>
<use href="#g" x="339.6" y="65.5"/>
<use href="#g" x="345.5" y="65.5"/>
<use href="#g" x="265.8" y="70.2"/>
<use href="#g" x="271.7" y="70.2"/>
<use href="#g" x="277.6" y="70.2"/>
<use href="#g" x="295.3" y="70.2"/>
<use href="#g" x="301.2" y="70.2"/>
<use href="#g" x="307.1" y="70.2"/>
<use href="#g" x="324.8" y="70.2"/>
<use href="#g" x="330.7" y="70.2"/>
<use href="#g" x="336.6" y="70.2"/>
<use href="#g" x="348.4" y="70.2"/>
<use href="#g" x="268.8" y="74.9"/>
<use href="#g" x="286.5" y="74.9"/>
<use href="#g" x="292.4" y="74.9"/>
<use href="#g" x="298.3" y="74.9"/>
<use href="#g" x="316.0" y="74.9"/>
<use href="#g" x="321.9" y="74.9"/>
<use href="#g" x="327.8" y="74.9"/>
<use href="#g" x="339.6" y="74.9"/>
<use href="#g" x="345.5" y="74.9"/>
<use href="#g" x="277.6" y="79.6"/>
<use href="#g" x="283.5" y="79.6"/>
<use href="#g" x="289.4" y="79.6"/>
<use href="#g" x="307.1" y="79.6"/>
<use href="#g" x="313.0" y="79.6"/>
<use href="#g" x="318.9" y="79.6"/>
<use href="#g" x="330.7" y="79.6"/>
<use href="#g" x="336.6" y="79.6"/>
<use href="#g" x="342.5" y="79.6"/>
<use href="#g" x="274.7" y="84.3"/>
<use href="#g" x="280.6" y="84.3"/>
<use href="#g" x="292.4" y="84.3"/>
<use href="#g" x="298.3" y="84.3"/>
<use href="#g" x="304.2" y="84.3"/>
<use href="#g" x="310.1" y="84.3"/>
<use href="#g" x="321.9" y="84.3"/>
<use href="#g" x="327.8" y="84.3"/>
<use href="#g" x="333.7" y="84.3"/>
<use href="#g" x="283.5" y="89.0"/>
<use href="#g" x="289.4" y="89.0"/>
<use href="#g" x="295.3" y="89.0"/>
<use href="#g" x="301.2" y="89.0"/>
<use href="#g" x="313.0" y="89.0"/>
<use href="#g" x="318.9" y="89.0"/>
<use href="#g" x="324.8" y="89.0"/>
<use href="#g" x="286.5" y="93.7"/>
<use href="#g" x="304.2" y="93.7"/>
<use href="#g" x="310.1" y="93.7"/>
<use href="#g" x="316.0" y="93.7"/>
<use href="#g" x="333.7" y="93.7"/>
<use href="#g" x="295.3" y="98.4"/>
<use href="#g" x="301.2" y="98.4"/>
<use href="#g" x="307.1" y="98.4"/>
<use href="#g" x="324.8" y="98.4"/></g>
<polygon points="437.5,165.1 468.6,165.1 486.6,173.9 501.0,187.1 509.4,203.8 512.4,225.4 509.9,242.7 503.5,257.0 491.4,266.7 478.3,272.7 469.6,279.3 437.0,279.3 426.9,272.7 409.7,257.2 401.3,242.8 397.2,228.6 394.1,207.4 398.0,199.1 407.5,187.0 424.2,172.7" fill="#fff" opacity="0.85"/>
<g id="qd-cucdse"><polygon points="439.2,171.8 466.9,171.8 482.9,179.6 495.8,191.4 503.2,206.2 505.8,225.4 503.7,240.9 498.0,253.6 487.1,262.1 475.4,267.4 467.8,273.3 438.8,273.3 429.9,267.3 414.7,253.6 407.2,240.9 403.5,228.3 400.6,209.5 404.1,202.1 412.6,191.4 427.5,178.6" fill="#b85406"/>
<use href="#o" x="441.4" y="170.6"/>
<use href="#o" x="447.3" y="170.6"/>
<use href="#o" x="453.2" y="170.6"/>
<use href="#o" x="459.1" y="170.6"/>
<use href="#o" x="465.0" y="170.6"/>
<use href="#o" x="432.6" y="175.3"/>
<use href="#o" x="438.5" y="175.3"/>
<use href="#o" x="444.4" y="175.3"/>
<use href="#o" x="450.3" y="175.3"/>
<use href="#o" x="456.2" y="175.3"/>
<use href="#o" x="462.1" y="175.3"/>
<use href="#o" x="468.0" y="175.3"/>
<use href="#o" x="473.9" y="175.3"/>
<use href="#o" x="479.8" y="175.3"/>
<use href="#o" x="423.7" y="180.0"/>
<use href="#o" x="429.6" y="180.0"/>
<use href="#o" x="435.5" y="180.0"/>
<use href="#o" x="441.4" y="180.0"/>
<use href="#o" x="447.3" y="180.0"/>
<use href="#o" x="453.2" y="180.0"/>
<use href="#o" x="459.1" y="180.0"/>
<use href="#o" x="465.0" y="180.0"/>
<use href="#o" x="470.9" y="180.0"/>
<use href="#o" x="476.8" y="180.0"/>
<use href="#o" x="482.7" y="180.0"/>
<use href="#o" x="420.8" y="184.7"/>
<use href="#o" x="426.7" y="184.7"/>
<use href="#o" x="432.6" y="184.7"/>
<use href="#o" x="438.5" y="184.7"/>
<use href="#o" x="444.4" y="184.7"/>
<use href="#o" x="450.3" y="184.7"/>
<use href="#o" x="456.2" y="184.7"/>
<use href="#o" x="462.1" y="184.7"/>
<use href="#o" x="468.0" y="184.7"/>
<use href="#o" x="473.9" y="184.7"/>
<use href="#o" x="479.8" y="184.7"/>
<use href="#o" x="485.7" y="184.7"/>
<use href="#o" x="491.6" y="184.7"/>
<use href="#o" x="411.9" y="189.4"/>
<use href="#o" x="417.8" y="189.4"/>
<use href="#o" x="423.7" y="189.4"/>
<use href="#o" x="429.6" y="189.4"/>
<use href="#o" x="435.5" y="189.4"/>
<use href="#o" x="441.4" y="189.4"/>
<use href="#o" x="447.3" y="189.4"/>
<use href="#o" x="453.2" y="189.4"/>
<use href="#o" x="459.1" y="189.4"/>
<use href="#o" x="465.0" y="189.4"/>
<use href="#o" x="470.9" y="189.4"/>
<use href="#o" x="476.8" y="189.4"/>
<use href="#o" x="482.7" y="189.4"/>
<use href="#o" x="488.6" y="189.4"/>
<use href="#o" x="494.5" y="189.4"/>
<use href="#o" x="409.0" y="194.1"/>
<use href="#o" x="414.9" y="194.1"/>
<use href="#o" x="420.8" y="194.1"/>
<use href="#o" x="426.7" y="194.1"/>
<use href="#o" x="432.6" y="194.1"/>
<use href="#o" x="438.5" y="194.1"/>
<use href="#o" x="444.4" y="194.1"/>
<use href="#o" x="450.3" y="194.1"/>
<use href="#o" x="456.2" y="194.1"/>
<use href="#o" x="462.1" y="194.1"/>
<use href="#o" x="468.0" y="194.1"/>
<use href="#o" x="473.9" y="194.1"/>
<use href="#o" x="479.8" y="194.1"/>
<use href="#o" x="485.7" y="194.1"/>
<use href="#o" x="491.6" y="194.1"/>
<use href="#o" x="497.5" y="194.1"/>
<use href="#o" x="406.0" y="198.8"/>
<use href="#o" x="411.9" y="198.8"/>
<use href="#o" x="417.8" y="198.8"/>
<use href="#o" x="423.7" y="198.8"/>
<use href="#o" x="429.6" y="198.8"/>
<use href="#o" x="435.5" y="198.8"/>
<use href="#o" x="441.4" y="198.8"/>
<use href="#o" x="447.3" y="198.8"/>
<use href="#o" x="453.2" y="198.8"/>
<use href="#o" x="459.1" y="198.8"/>
<use href="#o" x="465.0" y="198.8"/>
<use href="#o" x="470.9" y="198.8"/>
<use href="#o" x="476.8" y="198.8"/>
<use href="#o" x="482.7" y="198.8"/>
<use href="#o" x="488.6" y="198.8"/>
<use href="#o" x="494.5" y="198.8"/>
<use href="#o" x="500.4" y="198.8"/>
<use href="#o" x="403.1" y="203.5"/>
<use href="#o" x="409.0" y="203.5"/>
<use href="#o" x="414.9" y="203.5"/>
<use href="#o" x="420.8" y="203.5"/>
<use href="#o" x="426.7" y="203.5"/>
<use href="#o" x="432.6" y="203.5"/>
<use href="#o" x="438.5" y="203.5"/>
<use href="#o" x="444.4" y="203.5"/>
<use href="#o" x="450.3" y="203.5"/>
<use href="#o" x="456.2" y="203.5"/>
<use href="#o" x="462.1" y="203.5"/>
<use href="#o" x="468.0" y="203.5"/>
<use href="#o" x="473.9" y="203.5"/>
<use href="#o" x="479.8" y="203.5"/>
<use href="#o" x="485.7" y="203.5"/>
<use href="#o" x="491.6" y="203.5"/>
<use href="#o" x="497.5" y="203.5"/>
<use href="#o" x="503.4" y="203.5"/>
<use href="#o" x="400.1" y="208.2"/>
<use href="#o" x="406.0" y="208.2"/>
<use href="#o" x="411.9" y="208.2"/>
<use href="#o" x="417.8" y="208.2"/>
<use href="#o" x="423.7" y="208.2"/>
<use href="#o" x="429.6" y="208.2"/>
<use href="#o" x="435.5" y="208.2"/>
<use href="#o" x="441.4" y="208.2"/>
<use href="#o" x="447.3" y="208.2"/>
<use href="#o" x="453.2" y="208.2"/>
<use href="#o" x="459.1" y="208.2"/>
<use href="#o" x="465.0" y="208.2"/>
<use href="#o" x="470.9" y="208.2"/>
<use href="#o" x="476.8" y="208.2"/>
<use href="#o" x="482.7" y="208.2"/>
<use href="#o" x="488.6" y="208.2"/>
<use href="#o" x="494.5" y="208.2"/>
<use href="#o" x="500.4" y="208.2"/>
<use href="#o" x="403.1" y="212.9"/>
<use href="#o" x="409.0" y="212.9"/>
<use href="#o" x="414.9" y="212.9"/>
<use href="#o" x="420.8" y="212.9"/>
<use href="#o" x="426.7" y="212.9"/>
<use href="#o" x="432.6" y="212.9"/>
<use href="#o" x="438.5" y="212.9"/>
<use href="#o" x="444.4" y="212.9"/>
<use href="#o" x="450.3" y="212.9"/>
<use href="#o" x="456.2" y="212.9"/>
<use href="#o" x="462.1" y="212.9"/>
<use href="#o" x="468.0" y="212.9"/>
<use href="#o" x="473.9" y="212.9"/>
<use href="#o" x="479.8" y="212.9"/>
<use href="#o" x="485.7" y="212.9"/>
<use href="#o" x="491.6" y="212.9"/>
<use href="#o" x="497.5" y="212.9"/>
<use href="#o" x="503.4" y="212.9"/>
<use href="#o" x="400.1" y="217.6"/>
<use href="#o" x="406.0" y="217.6"/>
<use href="#o" x="411.9" y="217.6"/>
<use href="#o" x="417.8" y="217.6"/>
<use href="#o" x="423.7" y="217.6"/>
<use href="#o" x="429.6" y="217.6"/>
<use href="#o" x="435.5" y="217.6"/>
<use href="#o" x="441.4" y="217.6"/>
<use href="#o" x="447.3" y="217.6"/>
<use href="#o" x="453.2" y="217.6"/>
<use href="#o" x="459.1" y="217.6"/>
<use href="#o" x="465.0" y="217.6"/>
<use href="#o" x="470.9" y="217.6"/>
<use href="#o" x="476.8" y="217.6"/>
<use href="#o" x="482.7" y="217.6"/>
<use href="#o" x="488.6" y="217.6"/>
<use href="#o" x="494.5" y="217.6"/>
<use href="#o" x="500.4" y="217.6"/>
<use href="#o" x="506.3" y="217.6"/>
<use href="#o" x="403.1" y="222.3"/>
<use href="#o" x="409.0" y="222.3"/>
<use href="#o" x="414.9" y="222.3"/>
<use href="#o" x="420.8" y="222.3"/>
<use href="#o" x="426.7" y="222.3"/>
<use href="#o" x="432.6" y="222.3"/>
<use href="#o" x="438.5" y="222.3"/>
<use href="#o" x="444.4" y="222.3"/>
<use href="#o" x="450.3" y="222.3"/>
<use href="#o" x="456.2" y="222.3"/>
<use href="#o" x="462.1" y="222.3"/>
<use href="#o" x="468.0" y="222.3"/>
<use href="#o" x="473.9" y="222.3"/>
<use href="#o" x="479.8" y="222.3"/>
<use href="#o" x="485.7" y="222.3"/>
<use href="#o" x="491.6" y="222.3"/>
<use href="#o" x="497.5" y="222.3"/>
<use href="#o" x="503.4" y="222.3"/>
<use href="#o" x="406.0" y="227.0"/>
<use href="#o" x="411.9" y="227.0"/>
<use href="#o" x="417.8" y="227.0"/>
<use href="#o" x="423.7" y="227.0"/>
<use href="#o" x="429.6" y="227.0"/>
<use href="#o" x="435.5" y="227.0"/>
<use href="#o" x="441.4" y="227.0"/>
<use href="#o" x="447.3" y="227.0"/>
<use href="#o" x="453.2" y="227.0"/>
<use href="#o" x="459.1" y="227.0"/>
<use href="#o" x="465.0" y="227.0"/>
<use href="#o" x="470.9" y="227.0"/>
<use href="#o" x="476.8" y="227.0"/>
<use href="#o" x="482.7" y="227.0"/>
<use href="#o" x="488.6" y="227.0"/>
<use href="#o" x="494.5" y="227.0"/>
<use href="#o" x="500.4" y="227.0"/>
<use href="#o" x="506.3" y="227.0"/>
<use href="#o" x="403.1" y="231.7"/>
<use href="#o" x="409.0" y="231.7"/>
<use href="#o" x="414.9" y="231.7"/>
<use href="#o" x="420.8" y="231.7"/>
<use href="#o" x="426.7" y="231.7"/>
<use href="#o" x="432.6" y="231.7"/>
<use href="#o" x="438.5" y="231.7"/>
<use href="#o" x="444.4" y="231.7"/>
<use href="#o" x="450.3" y="231.7"/>
<use href="#o" x="456.2" y="231.7"/>
<use href="#o" x="462.1" y="231.7"/>
<use href="#o" x="468.0" y="231.7"/>
<use href="#o" x="473.9" y="231.7"/>
<use href="#o" x="479.8" y="231.7"/>
<use href="#o" x="485.7" y="231.7"/>
<use href="#o" x="491.6" y="231.7"/>
<use href="#o" x="497.5" y="231.7"/>
<use href="#o" x="503.4" y="231.7"/>
<use href="#o" x="406.0" y="236.4"/>
<use href="#o" x="411.9" y="236.4"/>
<use href="#o" x="417.8" y="236.4"/>
<use href="#o" x="423.7" y="236.4"/>
<use href="#o" x="429.6" y="236.4"/>
<use href="#o" x="435.5" y="236.4"/>
<use href="#o" x="441.4" y="236.4"/>
<use href="#o" x="447.3" y="236.4"/>
<use href="#o" x="453.2" y="236.4"/>
<use href="#o" x="459.1" y="236.4"/>
<use href="#o" x="465.0" y="236.4"/>
<use href="#o" x="470.9" y="236.4"/>
<use href="#o" x="476.8" y="236.4"/>
<use href="#o" x="482.7" y="236.4"/>
<use href="#o" x="488.6" y="236.4"/>
<use href="#o" x="494.5" y="236.4"/>
<use href="#o" x="500.4" y="236.4"/>
<use href="#o" x="506.3" y="236.4"/>
<use href="#o" x="409.0" y="241.1"/>
<use href="#o" x="414.9" y="241.1"/>
<use href="#o" x="420.8" y="241.1"/>
<use href="#o" x="426.7" y="241.1"/>
<use href="#o" x="432.6" y="241.1"/>
<use href="#o" x="438.5" y="241.1"/>
<use href="#o" x="444.4" y="241.1"/>
<use href="#o" x="450.3" y="241.1"/>
<use href="#o" x="456.2" y="241.1"/>
<use href="#o" x="462.1" y="241.1"/>
<use href="#o" x="468.0" y="241.1"/>
<use href="#o" x="473.9" y="241.1"/>
<use href="#o" x="479.8" y="241.1"/>
<use href="#o" x="485.7" y="241.1"/>
<use href="#o" x="491.6" y="241.1"/>
<use href="#o" x="497.5" y="241.1"/>
<use href="#o" x="503.4" y="241.1"/>
<use href="#o" x="411.9" y="245.8"/>
<use href="#o" x="417.8" y="245.8"/>
<use href="#o" x="423.7" y="245.8"/>
<use href="#o" x="429.6" y="245.8"/>
<use href="#o" x="435.5" y="245.8"/>
<use href="#o" x="441.4" y="245.8"/>
<use href="#o" x="447.3" y="245.8"/>
<use href="#o" x="453.2" y="245.8"/>
<use href="#o" x="459.1" y="245.8"/>
<use href="#o" x="465.0" y="245.8"/>
<use href="#o" x="470.9" y="245.8"/>
<use href="#o" x="476.8" y="245.8"/>
<use href="#o" x="482.7" y="245.8"/>
<use href="#o" x="488.6" y="245.8"/>
<use href="#o" x="494.5" y="245.8"/>
<use href="#o" x="500.4" y="245.8"/>
<use href="#o" x="414.9" y="250.5"/>
<use href="#o" x="420.8" y="250.5"/>
<use href="#o" x="426.7" y="250.5"/>
<use href="#o" x="432.6" y="250.5"/>
<use href="#o" x="438.5" y="250.5"/>
<use href="#o" x="444.4" y="250.5"/>
<use href="#o" x="450.3" y="250.5"/>
<use href="#o" x="456.2" y="250.5"/>
<use href="#o" x="462.1" y="250.5"/>
<use href="#o" x="468.0" y="250.5"/>
<use href="#o" x="473.9" y="250.5"/>
<use href="#o" x="479.8" y="250.5"/>
<use href="#o" x="485.7" y="250.5"/>
<use href="#o" x="491.6" y="250.5"/>
<use href="#o" x="497.5" y="250.5"/>
<use href="#o" x="417.8" y="255.2"/>
<use href="#o" x="423.7" y="255.2"/>
<use href="#o" x="429.6" y="255.2"/>
<use href="#o" x="435.5" y="255.2"/>
<use href="#o" x="441.4" y="255.2"/>
<use href="#o" x="447.3" y="255.2"/>
<use href="#o" x="453.2" y="255.2"/>
<use href="#o" x="459.1" y="255.2"/>
<use href="#o" x="465.0" y="255.2"/>
<use href="#o" x="470.9" y="255.2"/>
<use href="#o" x="476.8" y="255.2"/>
<use href="#o" x="482.7" y="255.2"/>
<use href="#o" x="488.6" y="255.2"/>
<use href="#o" x="494.5" y="255.2"/>
<use href="#o" x="420.8" y="259.9"/>
<use href="#o" x="426.7" y="259.9"/>
<use href="#o" x="432.6" y="259.9"/>
<use href="#o" x="438.5" y="259.9"/>
<use href="#o" x="444.4" y="259.9"/>
<use href="#o" x="450.3" y="259.9"/>
<use href="#o" x="456.2" y="259.9"/>
<use href="#o" x="462.1" y="259.9"/>
<use href="#o" x="468.0" y="259.9"/>
<use href="#o" x="473.9" y="259.9"/>
<use href="#o" x="479.8" y="259.9"/>
<use href="#o" x="485.7" y="259.9"/>
<use href="#o" x="491.6" y="259.9"/>
<use href="#o" x="429.6" y="264.6"/>
<use href="#o" x="435.5" y="264.6"/>
<use href="#o" x="441.4" y="264.6"/>
<use href="#o" x="447.3" y="264.6"/>
<use href="#o" x="453.2" y="264.6"/>
<use href="#o" x="459.1" y="264.6"/>
<use href="#o" x="465.0" y="264.6"/>
<use href="#o" x="470.9" y="264.6"/>
<use href="#o" x="476.8" y="264.6"/>
<use href="#o" x="482.7" y="264.6"/>
<use href="#o" x="432.6" y="269.3"/>
<use href="#o" x="438.5" y="269.3"/>
<use href="#o" x="444.4" y="269.3"/>
<use href="#o" x="450.3" y="269.3"/>
<use href="#o" x="456.2" y="269.3"/>
<use href="#o" x="462.1" y="269.3"/>
<use href="#o" x="468.0" y="269.3"/>
<use href="#o" x="473.9" y="269.3"/>
<use href="#o" x="441.4" y="274.0"/>
<use href="#o" x="447.3" y="274.0"/>
<use href="#o" x="453.2" y="274.0"/>
<use href="#o" x="459.1" y="274.0"/>
<use href="#o" x="465.0" y="274.0"/>
<use href="#g" x="435.5" y="177.0"/>
<use href="#g" x="447.3" y="177.0"/>
<use href="#g" x="453.2" y="177.0"/>
<use href="#g" x="459.1" y="177.0"/>
<use href="#g" x="438.5" y="181.7"/>
<use href="#g" x="444.4" y="181.7"/>
<use href="#g" x="450.3" y="181.7"/>
<use href="#g" x="468.0" y="181.7"/>
<use href="#g" x="473.9" y="181.7"/>
<use href="#g" x="479.8" y="181.7"/>
<use href="#g" x="429.6" y="186.4"/>
<use href="#g" x="435.5" y="186.4"/>
<use href="#g" x="441.4" y="186.4"/>
<use href="#g" x="459.1" y="186.4"/>
<use href="#g" x="465.0" y="186.4"/>
<use href="#g" x="470.9" y="186.4"/>
<use href="#g" x="482.7" y="186.4"/>
<use href="#g" x="420.8" y="191.1"/>
<use href="#g" x="426.7" y="191.1"/>
<use href="#g" x="432.6" y="191.1"/>
<use href="#g" x="450.3" y="191.1"/>
<use href="#g" x="456.2" y="191.1"/>
<use href="#g" x="462.1" y="191.1"/>
<use href="#g" x="473.9" y="191.1"/>
<use href="#g" x="479.8" y="191.1"/>
<use href="#g" x="485.7" y="191.1"/>
<use href="#g" x="491.6" y="191.1"/>
<use href="#g" x="411.9" y="195.8"/>
<use href="#g" x="417.8" y="195.8"/>
<use href="#g" x="423.7" y="195.8"/>
<use href="#g" x="441.4" y="195.8"/>
<use href="#g" x="447.3" y="195.8"/>
<use href="#g" x="453.2" y="195.8"/>
<use href="#g" x="465.0" y="195.8"/>
<use href="#g" x="470.9" y="195.8"/>
<use href="#g" x="476.8" y="195.8"/>
<use href="#g" x="494.5" y="195.8"/>
<use href="#g" x="409.0" y="200.5"/>
<use href="#g" x="414.9" y="200.5"/>
<use href="#g" x="426.7" y="200.5"/>
<use href="#g" x="432.6" y="200.5"/>
<use href="#g" x="438.5" y="200.5"/>
<use href="#g" x="444.4" y="200.5"/>
<use href="#g" x="456.2" y="200.5"/>
<use href="#g" x="462.1" y="200.5"/>
<use href="#g" x="468.0" y="200.5"/>
<use href="#g" x="485.7" y="200.5"/>
<use href="#g" x="491.6" y="200.5"/>
<use href="#g" x="497.5" y="200.5"/>
<use href="#g" x="406.0" y="205.2"/>
<use href="#g" x="417.8" y="205.2"/>
<use href="#g" x="423.7" y="205.2"/>
<use href="#g" x="429.6" y="205.2"/>
<use href="#g" x="435.5" y="205.2"/>
<use href="#g" x="447.3" y="205.2"/>
<use href="#g" x="453.2" y="205.2"/>
<use href="#g" x="459.1" y="205.2"/>
<use href="#g" x="476.8" y="205.2"/>
<use href="#g" x="482.7" y="205.2"/>
<use href="#g" x="488.6" y="205.2"/>
<use href="#g" x="409.0" y="209.9"/>
<use href="#g" x="414.9" y="209.9"/>
<use href="#g" x="420.8" y="209.9"/>
<use href="#g" x="438.5" y="209.9"/>
<use href="#g" x="444.4" y="209.9"/>
<use href="#g" x="450.3" y="209.9"/>
<use href="#g" x="468.0" y="209.9"/>
<use href="#g" x="473.9" y="209.9"/>
<use href="#g" x="479.8" y="209.9"/>
<use href="#g" x="497.5" y="209.9"/>
<use href="#g" x="406.0" y="214.6"/>
<use href="#g" x="411.9" y="214.6"/>
<use href="#g" x="429.6" y="214.6"/>
<use href="#g" x="435.5" y="214.6"/>
<use href="#g" x="441.4" y="214.6"/>
<use href="#g" x="459.1" y="214.6"/>
<use href="#g" x="465.0" y="214.6"/>
<use href="#g" x="470.9" y="214.6"/>
<use href="#g" x="482.7" y="214.6"/>
<use href="#g" x="488.6" y="214.6"/>
<use href="#g" x="494.5" y="214.6"/>
<use href="#g" x="500.4" y="214.6"/>
<use href="#g" x="420.8" y="219.3"/>
<use href="#g" x="426.7" y="219.3"/>
<use href="#g" x="432.6" y="219.3"/>
<use href="#g" x="450.3" y="219.3"/>
<use href="#g" x="456.2" y="219.3"/>
<use href="#g" x="462.1" y="219.3"/>
<use href="#g" x="473.9" y="219.3"/>
<use href="#g" x="479.8" y="219.3"/>
<use href="#g" x="485.7" y="219.3"/>
<use href="#g" x="491.6" y="219.3"/>
<use href="#g" x="411.9" y="224.0"/>
<use href="#g" x="417.8" y="224.0"/>
<use href="#g" x="423.7" y="224.0"/>
<use href="#g" x="441.4" y="224.0"/>
<use href="#g" x="447.3" y="224.0"/>
<use href="#g" x="453.2" y="224.0"/>
<use href="#g" x="465.0" y="224.0"/>
<use href="#g" x="470.9" y="224.0"/>
<use href="#g" x="476.8" y="224.0"/>
<use href="#g" x="494.5" y="224.0"/>
<use href="#g" x="500.4" y="224.0"/>
<use href="#g" x="409.0" y="228.7"/>
<use href="#g" x="414.9" y="228.7"/>
<use href="#g" x="426.7" y="228.7"/>
<use href="#g" x="432.6" y="228.7"/>
<use href="#g" x="438.5" y="228.7"/>
<use href="#g" x="444.4" y="228.7"/>
<use href="#g" x="456.2" y="228.7"/>
<use href="#g" x="462.1" y="228.7"/>
<use href="#g" x="468.0" y="228.7"/>
<use href="#g" x="485.7" y="228.7"/>
<use href="#g" x="491.6" y="228.7"/>
<use href="#g" x="497.5" y="228.7"/>
<use href="#g" x="417.8" y="233.4"/>
<use href="#g" x="423.7" y="233.4"/>
<use href="#g" x="429.6" y="233.4"/>
<use href="#g" x="435.5" y="233.4"/>
<use href="#g" x="447.3" y="233.4"/>
<use href="#g" x="453.2" y="233.4"/>
<use href="#g" x="459.1" y="233.4"/>
<use href="#g" x="476.8" y="233.4"/>
<use href="#g" x="482.7" y="233.4"/>
<use href="#g" x="488.6" y="233.4"/>
<use href="#g" x="409.0" y="238.1"/>
<use href="#g" x="414.9" y="238.1"/>
<use href="#g" x="420.8" y="238.1"/>
<use href="#g" x="438.5" y="238.1"/>
<use href="#g" x="444.4" y="238.1"/>
<use href="#g" x="450.3" y="238.1"/>
<use href="#g" x="468.0" y="238.1"/>
<use href="#g" x="473.9" y="238.1"/>
<use href="#g" x="479.8" y="238.1"/>
<use href="#g" x="497.5" y="238.1"/>
<use href="#g" x="411.9" y="242.8"/>
<use href="#g" x="429.6" y="242.8"/>
<use href="#g" x="435.5" y="242.8"/>
<use href="#g" x="441.4" y="242.8"/>
<use href="#g" x="459.1" y="242.8"/>
<use href="#g" x="465.0" y="242.8"/>
<use href="#g" x="470.9" y="242.8"/>
<use href="#g" x="482.7" y="242.8"/>
<use href="#g" x="488.6" y="242.8"/>
<use href="#g" x="494.5" y="242.8"/>
<use href="#g" x="500.4" y="242.8"/>
<use href="#g" x="420.8" y="247.5"/>
<use href="#g" x="426.7" y="247.5"/>
<use href="#g" x="432.6" y="247.5"/>
<use href="#g" x="450.3" y="247.5"/>
<use href="#g" x="456.2" y="247.5"/>
<use href="#g" x="462.1" y="247.5"/>
<use href="#g" x="473.9" y="247.5"/>
<use href="#g" x="479.8" y="247.5"/>
<use href="#g" x="485.7" y="247.5"/>
<use href="#g" x="491.6" y="247.5"/>
<use href="#g" x="417.8" y="252.2"/>
<use href="#g" x="423.7" y="252.2"/>
<use href="#g" x="441.4" y="252.2"/>
<use href="#g" x="447.3" y="252.2"/>
<use href="#g" x="453.2" y="252.2"/>
<use href="#g" x="465.0" y="252.2"/>
<use href="#g" x="470.9" y="252.2"/>
<use href="#g" x="476.8" y="252.2"/>
<use href="#g" x="494.5" y="252.2"/>
<use href="#g" x="426.7" y="256.9"/>
<use href="#g" x="432.6" y="256.9"/>
<use href="#g" x="438.5" y="256.9"/>
<use href="#g" x="444.4" y="256.9"/>
<use href="#g" x="456.2" y="256.9"/>
<use href="#g" x="462.1" y="256.9"/>
<use href="#g" x="468.0" y="256.9"/>
<use href="#g" x="485.7" y="256.9"/>
<use href="#g" x="429.6" y="261.6"/>
<use href="#g" x="435.5" y="261.6"/>
<use href="#g" x="447.3" y="261.6"/>
<use href="#g" x="453.2" y="261.6"/>
<use href="#g" x="459.1" y="261.6"/>
<use href="#g" x="476.8" y="261.6"/>
<use href="#g" x="438.5" y="266.3"/>
<use href="#g" x="444.4" y="266.3"/>
<use href="#g" x="450.3" y="266.3"/>
<use href="#g" x="468.0" y="266.3"/>
<use href="#b" x="436.2" y="191.5"/>
<use href="#b" x="487.3" y="191.5"/>
<use href="#b" x="472.2" y="201.0"/>
<use href="#b" x="415.3" y="219.0"/>
<use href="#b" x="449.3" y="236.3"/>
<use href="#b" x="495.2" y="237.0"/>
<use href="#b" x="421.6" y="245.6"/>
<use href="#b" x="447.0" y="264.0"/></g>
<g id="qd-inp"><polygon points="597.7,15.4 623.0,15.4 639.2,25.0 650.7,38.8 657.6,57.2 658.7,77.9 650.7,96.3 636.8,110.1 618.4,117.1 595.4,114.7 577.0,103.2 563.2,84.8 555.9,64.1 557.4,48.0 565.5,31.9 579.3,21.5" fill="#b42c54"/>
<use href="#r" x="615.2" y="14.6"/>
<use href="#r" x="605.2" y="15.3"/>
<use href="#r" x="595.2" y="16.0"/>
<use href="#r" x="620.6" y="17.0"/>
<use href="#r" x="610.6" y="17.7"/>
<use href="#r" x="600.6" y="18.4"/>
<use href="#r" x="590.6" y="19.1"/>
<use href="#r" x="626.0" y="19.4"/>
<use href="#r" x="580.6" y="19.8"/>
<use href="#r" x="616.0" y="20.1"/>
<use href="#r" x="596.0" y="21.5"/>
<use href="#r" x="631.4" y="21.8"/>
<use href="#r" x="586.0" y="22.2"/>
<use href="#r" x="576.0" y="22.9"/>
<use href="#r" x="596.6" y="23.9"/>
<use href="#r" x="636.8" y="24.2"/>
<use href="#r" x="608.4" y="24.3"/>
<use href="#r" x="614.3" y="24.5"/>
<use href="#r" x="591.4" y="24.6"/>
<use href="#r" x="626.1" y="24.9"/>
<use href="#r" x="581.4" y="25.3"/>
<use href="#r" x="571.4" y="25.9"/>
<use href="#r" x="642.2" y="26.6"/>
<use href="#r" x="632.2" y="27.3"/>
<use href="#r" x="586.8" y="27.7"/>
<use href="#r" x="576.8" y="28.3"/>
<use href="#r" x="599.4" y="28.7"/>
<use href="#r" x="605.3" y="28.9"/>
<use href="#r" x="566.8" y="29.0"/>
<use href="#r" x="617.0" y="29.3"/>
<use href="#r" x="622.9" y="29.5"/>
<use href="#r" x="637.6" y="29.7"/>
<use href="#r" x="582.2" y="30.7"/>
<use href="#r" x="572.2" y="31.4"/>
<use href="#r" x="643.0" y="32.1"/>
<use href="#r" x="587.6" y="33.1"/>
<use href="#r" x="596.2" y="33.3"/>
<use href="#r" x="608.0" y="33.7"/>
<use href="#r" x="577.6" y="33.8"/>
<use href="#r" x="613.9" y="33.9"/>
<use href="#r" x="625.7" y="34.3"/>
<use href="#r" x="648.4" y="34.5"/>
<use href="#r" x="631.6" y="34.5"/>
<use href="#r" x="567.6" y="34.5"/>
<use href="#r" x="583.0" y="36.2"/>
<use href="#r" x="573.0" y="36.9"/>
<use href="#r" x="643.8" y="37.6"/>
<use href="#r" x="563.0" y="37.6"/>
<use href="#r" x="599.0" y="38.1"/>
<use href="#r" x="604.9" y="38.3"/>
<use href="#r" x="588.4" y="38.6"/>
<use href="#r" x="616.7" y="38.7"/>
<use href="#r" x="622.6" y="38.9"/>
<use href="#r" x="634.4" y="39.3"/>
<use href="#r" x="578.4" y="39.3"/>
<use href="#r" x="640.3" y="39.5"/>
<use href="#r" x="649.1" y="40.0"/>
<use href="#r" x="568.4" y="40.0"/>
<use href="#r" x="558.4" y="40.7"/>
<use href="#r" x="583.8" y="41.7"/>
<use href="#r" x="573.8" y="42.4"/>
<use href="#r" x="595.9" y="42.7"/>
<use href="#r" x="607.7" y="43.1"/>
<use href="#r" x="563.8" y="43.1"/>
<use href="#r" x="613.6" y="43.3"/>
<use href="#r" x="625.4" y="43.7"/>
<use href="#r" x="631.3" y="43.9"/>
<use href="#r" x="589.2" y="44.1"/>
<use href="#r" x="643.1" y="44.3"/>
<use href="#r" x="579.2" y="44.8"/>
<use href="#r" x="649.9" y="45.5"/>
<use href="#r" x="569.2" y="45.5"/>
<use href="#r" x="559.2" y="46.2"/>
<use href="#r" x="594.6" y="46.5"/>
<use href="#r" x="584.6" y="47.2"/>
<use href="#r" x="598.7" y="47.5"/>
<use href="#r" x="604.6" y="47.7"/>
<use href="#r" x="655.3" y="47.9"/>
<use href="#r" x="574.6" y="47.9"/>
<use href="#r" x="616.4" y="48.1"/>
<use href="#r" x="622.3" y="48.3"/>
<use href="#r" x="564.6" y="48.6"/>
<use href="#r" x="634.1" y="48.7"/>
<use href="#r" x="640.0" y="48.9"/>
<use href="#r" x="590.0" y="49.6"/>
<use href="#r" x="580.0" y="50.3"/>
<use href="#r" x="650.7" y="51.0"/>
<use href="#r" x="570.0" y="51.0"/>
<use href="#r" x="560.0" y="51.7"/>
<use href="#r" x="595.3" y="52.0"/>
<use href="#r" x="607.4" y="52.5"/>
<use href="#r" x="613.3" y="52.7"/>
<use href="#r" x="585.3" y="52.7"/>
<use href="#r" x="625.1" y="53.1"/>
<use href="#r" x="631.0" y="53.3"/>
<use href="#r" x="656.1" y="53.4"/>
<use href="#r" x="575.3" y="53.4"/>
<use href="#r" x="642.8" y="53.7"/>
<use href="#r" x="565.4" y="54.1"/>
<use href="#r" x="600.7" y="54.4"/>
<use href="#r" x="555.4" y="54.8"/>
<use href="#r" x="590.7" y="55.1"/>
<use href="#r" x="580.7" y="55.8"/>
<use href="#r" x="651.5" y="56.4"/>
<use href="#r" x="570.7" y="56.5"/>
<use href="#r" x="560.7" y="57.2"/>
<use href="#r" x="616.1" y="57.5"/>
<use href="#r" x="596.1" y="57.5"/>
<use href="#r" x="622.0" y="57.7"/>
<use href="#r" x="633.7" y="58.1"/>
<use href="#r" x="586.1" y="58.2"/>
<use href="#r" x="639.6" y="58.3"/>
<use href="#r" x="656.9" y="58.8"/>
<use href="#r" x="576.1" y="58.9"/>
<use href="#r" x="646.9" y="59.5"/>
<use href="#r" x="566.1" y="59.6"/>
<use href="#r" x="601.5" y="59.9"/>
<use href="#r" x="556.1" y="60.3"/>
<use href="#r" x="591.5" y="60.6"/>
<use href="#r" x="581.5" y="61.3"/>
<use href="#r" x="652.3" y="61.9"/>
<use href="#r" x="571.5" y="62.0"/>
<use href="#r" x="612.9" y="62.1"/>
<use href="#r" x="606.9" y="62.3"/>
<use href="#r" x="624.7" y="62.5"/>
<use href="#r" x="561.5" y="62.7"/>
<use href="#r" x="630.6" y="62.7"/>
<use href="#r" x="596.9" y="63.0"/>
<use href="#r" x="642.4" y="63.1"/>
<use href="#r" x="586.9" y="63.7"/>
<use href="#r" x="657.7" y="64.3"/>
<use href="#r" x="576.9" y="64.4"/>
<use href="#r" x="612.3" y="64.7"/>
<use href="#r" x="647.7" y="65.0"/>
<use href="#r" x="566.9" y="65.1"/>
<use href="#r" x="602.3" y="65.4"/>
<use href="#r" x="556.9" y="65.8"/>
<use href="#r" x="592.3" y="66.1"/>
<use href="#r" x="582.3" y="66.8"/>
<use href="#r" x="617.7" y="67.1"/>
<use href="#r" x="653.1" y="67.4"/>
<use href="#r" x="572.3" y="67.5"/>
<use href="#r" x="607.7" y="67.8"/>
<use href="#r" x="643.1" y="68.1"/>
<use href="#r" x="562.3" y="68.2"/>
<use href="#r" x="597.7" y="68.5"/>
<use href="#r" x="633.1" y="68.8"/>
<use href="#r" x="587.7" y="69.2"/>
<use href="#r" x="623.1" y="69.5"/>
<use href="#r" x="658.5" y="69.8"/>
<use href="#r" x="577.7" y="69.9"/>
<use href="#r" x="613.1" y="70.2"/>
<use href="#r" x="648.5" y="70.5"/>
<use href="#r" x="567.7" y="70.6"/>
<use href="#r" x="603.1" y="70.9"/>
<use href="#r" x="638.5" y="71.2"/>
<use href="#r" x="557.7" y="71.3"/>
<use href="#r" x="593.1" y="71.6"/>
<use href="#r" x="628.5" y="71.9"/>
<use href="#r" x="583.1" y="72.3"/>
<use href="#r" x="618.5" y="72.6"/>
<use href="#r" x="653.8" y="72.9"/>
<use href="#r" x="573.1" y="73.0"/>
<use href="#r" x="608.5" y="73.3"/>
<use href="#r" x="643.9" y="73.6"/>
<use href="#r" x="563.1" y="73.7"/>
<use href="#r" x="598.5" y="74.0"/>
<use href="#r" x="633.9" y="74.3"/>
<use href="#r" x="588.5" y="74.7"/>
<use href="#r" x="623.9" y="75.0"/>
<use href="#r" x="659.2" y="75.3"/>
<use href="#r" x="578.5" y="75.4"/>
<use href="#r" x="613.9" y="75.7"/>
<use href="#r" x="649.2" y="76.0"/>
<use href="#r" x="568.5" y="76.1"/>
<use href="#r" x="603.9" y="76.4"/>
<use href="#r" x="639.2" y="76.7"/>
<use href="#r" x="558.5" y="76.8"/>
<use href="#r" x="593.9" y="77.1"/>
<use href="#r" x="629.2" y="77.4"/>
<use href="#r" x="583.9" y="77.8"/>
<use href="#r" x="619.3" y="78.1"/>
<use href="#r" x="654.6" y="78.4"/>
<use href="#r" x="573.9" y="78.5"/>
<use href="#r" x="609.3" y="78.8"/>
<use href="#r" x="644.6" y="79.1"/>
<use href="#r" x="563.9" y="79.2"/>
<use href="#r" x="599.3" y="79.5"/>
<use href="#r" x="634.6" y="79.8"/>
<use href="#r" x="589.3" y="80.2"/>
<use href="#r" x="624.6" y="80.5"/>
<use href="#r" x="579.3" y="80.9"/>
<use href="#r" x="614.6" y="81.2"/>
<use href="#r" x="650.0" y="81.5"/>
<use href="#r" x="569.3" y="81.6"/>
<use href="#r" x="604.6" y="81.9"/>
<use href="#r" x="640.0" y="82.2"/>
<use href="#r" x="594.7" y="82.6"/>
<use href="#r" x="630.0" y="82.9"/>
<use href="#r" x="584.7" y="83.3"/>
<use href="#r" x="620.0" y="83.6"/>
<use href="#r" x="655.4" y="83.9"/>
<use href="#r" x="574.7" y="84.0"/>
<use href="#r" x="610.0" y="84.3"/>
<use href="#r" x="645.4" y="84.6"/>
<use href="#r" x="564.7" y="84.7"/>
<use href="#r" x="600.0" y="85.0"/>
<use href="#r" x="635.4" y="85.3"/>
<use href="#r" x="590.0" y="85.7"/>
<use href="#r" x="625.4" y="86.0"/>
<use href="#r" x="580.0" y="86.4"/>
<use href="#r" x="615.4" y="86.7"/>
<use href="#r" x="650.8" y="87.0"/>
<use href="#r" x="570.1" y="87.1"/>
<use href="#r" x="605.4" y="87.4"/>
<use href="#r" x="640.8" y="87.7"/>
<use href="#r" x="595.4" y="88.1"/>
<use href="#r" x="630.8" y="88.4"/>
<use href="#r" x="585.4" y="88.8"/>
<use href="#r" x="620.8" y="89.1"/>
<use href="#r" x="575.4" y="89.5"/>
<use href="#r" x="610.8" y="89.8"/>
<use href="#r" x="646.2" y="90.1"/>
<use href="#r" x="565.4" y="90.2"/>
<use href="#r" x="600.8" y="90.5"/>
<use href="#r" x="636.2" y="90.8"/>
<use href="#r" x="590.8" y="91.2"/>
<use href="#r" x="626.2" y="91.5"/>
<use href="#r" x="580.8" y="91.9"/>
<use href="#r" x="616.2" y="92.2"/>
<use href="#r" x="651.6" y="92.5"/>
<use href="#r" x="570.8" y="92.6"/>
<use href="#r" x="606.2" y="92.9"/>
<use href="#r" x="641.6" y="93.2"/>
<use href="#r" x="596.2" y="93.6"/>
<use href="#r" x="631.6" y="93.9"/>
<use href="#r" x="586.2" y="94.3"/>
<use href="#r" x="621.6" y="94.6"/>
<use href="#r" x="576.2" y="95.0"/>
<use href="#r" x="611.6" y="95.3"/>
<use href="#r" x="647.0" y="95.6"/>
<use href="#r" x="601.6" y="96.0"/>
<use href="#r" x="637.0" y="96.3"/>
<use href="#r" x="591.6" y="96.7"/>
<use href="#r" x="627.0" y="97.0"/>
<use href="#r" x="581.6" y="97.4"/>
<use href="#r" x="617.0" y="97.7"/>
<use href="#r" x="571.6" y="98.1"/>
<use href="#r" x="607.0" y="98.4"/>
<use href="#r" x="642.4" y="98.7"/>
<use href="#r" x="597.0" y="99.1"/>
<use href="#r" x="632.4" y="99.4"/>
<use href="#r" x="587.0" y="99.8"/>
<use href="#r" x="622.4" y="100.1"/>
<use href="#r" x="577.0" y="100.5"/>
<use href="#r" x="612.4" y="100.8"/>
<use href="#r" x="647.8" y="101.1"/>
<use href="#r" x="602.4" y="101.5"/>
<use href="#r" x="637.8" y="101.8"/>
<use href="#r" x="592.4" y="102.2"/>
<use href="#r" x="627.8" y="102.5"/>
<use href="#r" x="582.4" y="102.9"/>
<use href="#r" x="617.8" y="103.2"/>
<use href="#r" x="607.8" y="103.9"/>
<use href="#r" x="643.2" y="104.2"/>
<use href="#r" x="597.8" y="104.6"/>
<use href="#r" x="633.2" y="104.9"/>
<use href="#r" x="587.8" y="105.3"/>
<use href="#r" x="623.2" y="105.6"/>
<use href="#r" x="577.8" y="105.9"/>
<use href="#r" x="613.2" y="106.3"/>
<use href="#r" x="603.2" y="107.0"/>
<use href="#r" x="638.6" y="107.3"/>
<use href="#r" x="593.2" y="107.7"/>
<use href="#r" x="628.6" y="108.0"/>
<use href="#r" x="583.2" y="108.3"/>
<use href="#r" x="618.6" y="108.7"/>
<use href="#r" x="608.6" y="109.4"/>
<use href="#r" x="598.6" y="110.1"/>
<use href="#r" x="633.9" y="110.4"/>
<use href="#r" x="588.6" y="110.7"/>
<use href="#r" x="624.0" y="111.1"/>
<use href="#r" x="614.0" y="111.8"/>
<use href="#r" x="604.0" y="112.5"/>
<use href="#r" x="594.0" y="113.1"/>
<use href="#r" x="629.3" y="113.5"/>
<use href="#r" x="619.3" y="114.2"/>
<use href="#r" x="609.3" y="114.9"/>
<use href="#r" x="599.4" y="115.5"/>
<use href="#r" x="624.7" y="116.6"/>
<use href="#r" x="614.7" y="117.3"/>
<use href="#r" x="604.7" y="117.9"/>
<use href="#l" x="622.6" y="19.7"/>
<use href="#l" x="628.0" y="22.1"/>
<use href="#l" x="633.4" y="24.5"/>
<use href="#l" x="597.3" y="18.7"/>
<use href="#l" x="592.6" y="21.8"/>
<use href="#l" x="582.7" y="22.5"/>
<use href="#l" x="588.0" y="24.9"/>
<use href="#l" x="652.7" y="53.7"/>
<use href="#l" x="578.0" y="25.6"/>
<use href="#l" x="583.4" y="28.0"/>
<use href="#l" x="588.8" y="30.4"/>
<use href="#l" x="653.5" y="59.2"/>
<use href="#l" x="573.4" y="28.7"/>
<use href="#l" x="578.8" y="31.1"/>
<use href="#l" x="584.2" y="33.5"/>
<use href="#l" x="648.9" y="62.3"/>
<use href="#l" x="654.3" y="64.7"/>
<use href="#l" x="568.8" y="31.8"/>
<use href="#l" x="574.2" y="34.2"/>
<use href="#l" x="579.6" y="36.6"/>
<use href="#l" x="585.0" y="39.0"/>
<use href="#l" x="590.4" y="41.4"/>
<use href="#l" x="644.3" y="65.4"/>
<use href="#l" x="649.7" y="67.8"/>
<use href="#l" x="655.1" y="70.2"/>
<use href="#l" x="569.6" y="37.3"/>
<use href="#l" x="575.0" y="39.7"/>
<use href="#l" x="580.4" y="42.1"/>
<use href="#l" x="585.8" y="44.5"/>
<use href="#l" x="591.2" y="46.9"/>
<use href="#l" x="639.7" y="68.5"/>
<use href="#l" x="645.1" y="70.9"/>
<use href="#l" x="650.5" y="73.3"/>
<use href="#l" x="655.9" y="75.7"/>
<use href="#l" x="565.0" y="40.4"/>
<use href="#l" x="570.4" y="42.8"/>
<use href="#l" x="575.8" y="45.2"/>
<use href="#l" x="581.2" y="47.6"/>
<use href="#l" x="586.6" y="50.0"/>
<use href="#l" x="592.0" y="52.4"/>
<use href="#l" x="597.3" y="54.8"/>
<use href="#l" x="635.1" y="71.6"/>
<use href="#l" x="640.5" y="74.0"/>
<use href="#l" x="645.9" y="76.4"/>
<use href="#l" x="651.2" y="78.8"/>
<use href="#l" x="565.8" y="45.9"/>
<use href="#l" x="571.2" y="48.3"/>
<use href="#l" x="576.6" y="50.7"/>
<use href="#l" x="582.0" y="53.1"/>
<use href="#l" x="587.4" y="55.5"/>
<use href="#l" x="592.7" y="57.9"/>
<use href="#l" x="598.1" y="60.3"/>
<use href="#l" x="603.5" y="62.7"/>
<use href="#l" x="608.9" y="65.1"/>
<use href="#l" x="614.3" y="67.5"/>
<use href="#l" x="619.7" y="69.9"/>
<use href="#l" x="625.1" y="72.3"/>
<use href="#l" x="630.5" y="74.7"/>
<use href="#l" x="635.9" y="77.1"/>
<use href="#l" x="641.3" y="79.5"/>
<use href="#l" x="646.6" y="81.9"/>
<use href="#l" x="652.0" y="84.3"/>
<use href="#l" x="561.2" y="49.0"/>
<use href="#l" x="566.6" y="51.4"/>
<use href="#l" x="572.0" y="53.8"/>
<use href="#l" x="577.4" y="56.2"/>
<use href="#l" x="582.7" y="58.6"/>
<use href="#l" x="588.1" y="61.0"/>
<use href="#l" x="593.5" y="63.4"/>
<use href="#l" x="598.9" y="65.8"/>
<use href="#l" x="604.3" y="68.2"/>
<use href="#l" x="609.7" y="70.6"/>
<use href="#l" x="615.1" y="73.0"/>
<use href="#l" x="620.5" y="75.4"/>
<use href="#l" x="625.9" y="77.8"/>
<use href="#l" x="631.3" y="80.2"/>
<use href="#l" x="636.6" y="82.6"/>
<use href="#l" x="642.0" y="85.0"/>
<use href="#l" x="647.4" y="87.4"/>
<use href="#l" x="562.0" y="54.5"/>
<use href="#l" x="567.4" y="56.9"/>
<use href="#l" x="572.7" y="59.3"/>
<use href="#l" x="578.1" y="61.7"/>
<use href="#l" x="583.5" y="64.1"/>
<use href="#l" x="588.9" y="66.5"/>
<use href="#l" x="594.3" y="68.9"/>
<use href="#l" x="599.7" y="71.3"/>
<use href="#l" x="605.1" y="73.7"/>
<use href="#l" x="610.5" y="76.1"/>
<use href="#l" x="615.9" y="78.5"/>
<use href="#l" x="621.3" y="80.9"/>
<use href="#l" x="626.6" y="83.2"/>
<use href="#l" x="632.0" y="85.6"/>
<use href="#l" x="637.4" y="88.0"/>
<use href="#l" x="642.8" y="90.4"/>
<use href="#l" x="648.2" y="92.8"/>
<use href="#l" x="562.8" y="59.9"/>
<use href="#l" x="568.1" y="62.3"/>
<use href="#l" x="573.5" y="64.7"/>
<use href="#l" x="578.9" y="67.1"/>
<use href="#l" x="584.3" y="69.5"/>
<use href="#l" x="589.7" y="71.9"/>
<use href="#l" x="595.1" y="74.3"/>
<use href="#l" x="600.5" y="76.7"/>
<use href="#l" x="605.9" y="79.1"/>
<use href="#l" x="611.3" y="81.5"/>
<use href="#l" x="616.7" y="83.9"/>
<use href="#l" x="622.0" y="86.3"/>
<use href="#l" x="627.4" y="88.7"/>
<use href="#l" x="632.8" y="91.1"/>
<use href="#l" x="638.2" y="93.5"/>
<use href="#l" x="643.6" y="95.9"/>
<use href="#l" x="558.1" y="63.0"/>
<use href="#l" x="563.5" y="65.4"/>
<use href="#l" x="568.9" y="67.8"/>
<use href="#l" x="574.3" y="70.2"/>
<use href="#l" x="579.7" y="72.6"/>
<use href="#l" x="585.1" y="75.0"/>
<use href="#l" x="590.5" y="77.4"/>
<use href="#l" x="595.9" y="79.8"/>
<use href="#l" x="601.3" y="82.2"/>
<use href="#l" x="606.7" y="84.6"/>
<use href="#l" x="612.0" y="87.0"/>
<use href="#l" x="617.4" y="89.4"/>
<use href="#l" x="622.8" y="91.8"/>
<use href="#l" x="628.2" y="94.2"/>
<use href="#l" x="633.6" y="96.6"/>
<use href="#l" x="639.0" y="99.0"/>
<use href="#l" x="564.3" y="70.9"/>
<use href="#l" x="569.7" y="73.3"/>
<use href="#l" x="575.1" y="75.7"/>
<use href="#l" x="580.5" y="78.1"/>
<use href="#l" x="585.9" y="80.5"/>
<use href="#l" x="591.3" y="82.9"/>
<use href="#l" x="596.7" y="85.3"/>
<use href="#l" x="602.0" y="87.7"/>
<use href="#l" x="607.4" y="90.1"/>
<use href="#l" x="612.8" y="92.5"/>
<use href="#l" x="618.2" y="94.9"/>
<use href="#l" x="623.6" y="97.3"/>
<use href="#l" x="629.0" y="99.7"/>
<use href="#l" x="634.4" y="102.1"/>
<use href="#l" x="565.1" y="76.4"/>
<use href="#l" x="570.5" y="78.8"/>
<use href="#l" x="575.9" y="81.2"/>
<use href="#l" x="581.3" y="83.6"/>
<use href="#l" x="586.7" y="86.0"/>
<use href="#l" x="592.1" y="88.4"/>
<use href="#l" x="597.4" y="90.8"/>
<use href="#l" x="602.8" y="93.2"/>
<use href="#l" x="608.2" y="95.6"/>
<use href="#l" x="613.6" y="98.0"/>
<use href="#l" x="619.0" y="100.4"/>
<use href="#l" x="624.4" y="102.8"/>
<use href="#l" x="629.8" y="105.2"/>
<use href="#l" x="635.2" y="107.6"/>
<use href="#l" x="565.9" y="81.9"/>
<use href="#l" x="571.3" y="84.3"/>
<use href="#l" x="576.7" y="86.7"/>
<use href="#l" x="582.1" y="89.1"/>
<use href="#l" x="587.4" y="91.5"/>
<use href="#l" x="592.8" y="93.9"/>
<use href="#l" x="598.2" y="96.3"/>
<use href="#l" x="603.6" y="98.7"/>
<use href="#l" x="609.0" y="101.1"/>
<use href="#l" x="614.4" y="103.5"/>
<use href="#l" x="619.8" y="105.9"/>
<use href="#l" x="625.2" y="108.3"/>
<use href="#l" x="572.1" y="89.8"/>
<use href="#l" x="577.4" y="92.2"/>
<use href="#l" x="582.8" y="94.6"/>
<use href="#l" x="588.2" y="97.0"/>
<use href="#l" x="593.6" y="99.4"/>
<use href="#l" x="599.0" y="101.8"/>
<use href="#l" x="604.4" y="104.2"/>
<use href="#l" x="609.8" y="106.6"/>
<use href="#l" x="615.2" y="109.0"/>
<use href="#l" x="620.6" y="111.4"/>
<use href="#l" x="578.2" y="97.7"/>
<use href="#l" x="583.6" y="100.1"/>
<use href="#l" x="589.0" y="102.5"/>
<use href="#l" x="594.4" y="104.9"/>
<use href="#l" x="599.8" y="107.3"/>
<use href="#l" x="605.2" y="109.7"/>
<use href="#l" x="610.6" y="112.1"/>
<use href="#l" x="616.0" y="114.5"/>
<use href="#l" x="589.8" y="108.0"/>
<use href="#l" x="595.2" y="110.4"/>
<use href="#l" x="600.6" y="112.8"/>
<use href="#L" x="611.5" y="19.7"/>
<use href="#L" x="602.5" y="24.1"/>
<use href="#L" x="620.2" y="24.7"/>
<use href="#L" x="593.5" y="28.5"/>
<use href="#L" x="611.1" y="29.1"/>
<use href="#L" x="628.8" y="29.7"/>
<use href="#L" x="602.1" y="33.5"/>
<use href="#L" x="619.8" y="34.1"/>
<use href="#L" x="637.5" y="34.7"/>
<use href="#L" x="593.1" y="37.9"/>
<use href="#L" x="610.8" y="38.5"/>
<use href="#L" x="628.5" y="39.1"/>
<use href="#L" x="601.8" y="42.9"/>
<use href="#L" x="619.5" y="43.5"/>
<use href="#L" x="637.2" y="44.1"/>
<use href="#L" x="610.5" y="47.9"/>
<use href="#L" x="628.2" y="48.5"/>
<use href="#L" x="645.9" y="49.1"/>
<use href="#L" x="601.5" y="52.3"/>
<use href="#L" x="619.2" y="52.9"/>
<use href="#L" x="636.9" y="53.5"/>
<use href="#L" x="610.2" y="57.3"/>
<use href="#L" x="627.9" y="57.9"/>
<use href="#L" x="645.5" y="58.5"/>
<use href="#L" x="618.8" y="62.3"/>
<use href="#L" x="636.5" y="62.9"/>
<use href="#L" x="627.5" y="67.3"/></g>
<g id="qd-cuinp"><polygon points="726.1,24.3 752.3,24.3 769.7,35.7 779.9,50.2 783.9,64.8 782.8,82.3 775.5,99.6 760.9,114.1 743.5,120.3 723.2,115.7 705.7,102.6 692.7,85.2 686.7,61.9 691.3,47.4 702.9,34.3 714.5,27.0" fill="#b42c54"/>
<use href="#r" x="751.8" y="22.8"/>
<use href="#r" x="741.8" y="23.5"/>
<use href="#r" x="731.8" y="24.2"/>
<use href="#r" x="721.8" y="24.9"/>
<use href="#r" x="747.2" y="25.9"/>
<use href="#r" x="737.2" y="26.6"/>
<use href="#r" x="727.2" y="27.3"/>
<use href="#r" x="717.2" y="27.9"/>
<use href="#r" x="752.6" y="28.3"/>
<use href="#r" x="742.6" y="29.0"/>
<use href="#r" x="732.6" y="29.7"/>
<use href="#r" x="722.6" y="30.3"/>
<use href="#r" x="758.0" y="30.7"/>
<use href="#r" x="712.6" y="31.0"/>
<use href="#r" x="748.0" y="31.4"/>
<use href="#r" x="738.0" y="32.1"/>
<use href="#r" x="728.0" y="32.7"/>
<use href="#r" x="763.4" y="33.1"/>
<use href="#r" x="718.0" y="33.4"/>
<use href="#r" x="753.4" y="33.8"/>
<use href="#r" x="738.9" y="33.8"/>
<use href="#r" x="744.8" y="34.0"/>
<use href="#r" x="708.0" y="34.1"/>
<use href="#r" x="768.8" y="35.5"/>
<use href="#r" x="723.4" y="35.8"/>
<use href="#r" x="758.8" y="36.2"/>
<use href="#r" x="713.4" y="36.5"/>
<use href="#r" x="703.4" y="37.2"/>
<use href="#r" x="729.9" y="38.2"/>
<use href="#r" x="735.8" y="38.4"/>
<use href="#r" x="764.1" y="38.6"/>
<use href="#r" x="747.5" y="38.8"/>
<use href="#r" x="718.8" y="38.9"/>
<use href="#r" x="753.4" y="39.0"/>
<use href="#r" x="708.8" y="39.6"/>
<use href="#r" x="698.8" y="40.3"/>
<use href="#r" x="769.5" y="41.0"/>
<use href="#r" x="724.2" y="41.3"/>
<use href="#r" x="714.2" y="42.0"/>
<use href="#r" x="704.2" y="42.7"/>
<use href="#r" x="726.7" y="42.8"/>
<use href="#r" x="738.5" y="43.2"/>
<use href="#r" x="774.9" y="43.4"/>
<use href="#r" x="744.4" y="43.4"/>
<use href="#r" x="694.2" y="43.4"/>
<use href="#r" x="756.2" y="43.8"/>
<use href="#r" x="762.1" y="44.0"/>
<use href="#r" x="719.6" y="44.4"/>
<use href="#r" x="709.6" y="45.1"/>
<use href="#r" x="699.6" y="45.8"/>
<use href="#r" x="770.3" y="46.5"/>
<use href="#r" x="689.6" y="46.5"/>
<use href="#r" x="714.9" y="47.5"/>
<use href="#r" x="729.5" y="47.6"/>
<use href="#r" x="735.4" y="47.8"/>
<use href="#r" x="747.2" y="48.2"/>
<use href="#r" x="704.9" y="48.2"/>
<use href="#r" x="753.1" y="48.4"/>
<use href="#r" x="764.9" y="48.8"/>
<use href="#r" x="775.7" y="48.9"/>
<use href="#r" x="695.0" y="48.9"/>
<use href="#r" x="770.8" y="49.0"/>
<use href="#r" x="720.3" y="49.9"/>
<use href="#r" x="710.3" y="50.6"/>
<use href="#r" x="781.1" y="51.3"/>
<use href="#r" x="700.3" y="51.3"/>
<use href="#r" x="690.3" y="52.0"/>
<use href="#r" x="726.4" y="52.2"/>
<use href="#r" x="738.2" y="52.6"/>
<use href="#r" x="744.1" y="52.8"/>
<use href="#r" x="715.7" y="53.0"/>
<use href="#r" x="755.9" y="53.2"/>
<use href="#r" x="761.8" y="53.4"/>
<use href="#r" x="705.7" y="53.7"/>
<use href="#r" x="773.6" y="53.8"/>
<use href="#r" x="776.5" y="54.3"/>
<use href="#r" x="695.7" y="54.4"/>
<use href="#r" x="721.1" y="55.4"/>
<use href="#r" x="711.1" y="56.1"/>
<use href="#r" x="781.9" y="56.7"/>
<use href="#r" x="701.1" y="56.8"/>
<use href="#r" x="729.2" y="57.0"/>
<use href="#r" x="735.1" y="57.2"/>
<use href="#r" x="691.1" y="57.5"/>
<use href="#r" x="746.9" y="57.6"/>
<use href="#r" x="752.8" y="57.8"/>
<use href="#r" x="726.5" y="57.8"/>
<use href="#r" x="764.6" y="58.2"/>
<use href="#r" x="770.5" y="58.4"/>
<use href="#r" x="716.5" y="58.5"/>
<use href="#r" x="706.5" y="59.2"/>
<use href="#r" x="777.3" y="59.8"/>
<use href="#r" x="696.5" y="59.9"/>
<use href="#r" x="686.5" y="60.6"/>
<use href="#r" x="721.9" y="60.9"/>
<use href="#r" x="711.9" y="61.6"/>
<use href="#r" x="737.9" y="62.0"/>
<use href="#r" x="743.8" y="62.2"/>
<use href="#r" x="782.7" y="62.2"/>
<use href="#r" x="701.9" y="62.3"/>
<use href="#r" x="755.6" y="62.6"/>
<use href="#r" x="761.5" y="62.8"/>
<use href="#r" x="691.9" y="63.0"/>
<use href="#r" x="773.3" y="63.2"/>
<use href="#r" x="727.3" y="63.3"/>
<use href="#r" x="717.3" y="64.0"/>
<use href="#r" x="707.3" y="64.7"/>
<use href="#r" x="778.1" y="65.3"/>
<use href="#r" x="697.3" y="65.4"/>
<use href="#r" x="732.7" y="65.7"/>
<use href="#r" x="687.3" y="66.1"/>
<use href="#r" x="722.7" y="66.4"/>
<use href="#r" x="746.6" y="67.0"/>
<use href="#r" x="712.7" y="67.1"/>
<use href="#r" x="752.5" y="67.2"/>
<use href="#r" x="764.2" y="67.6"/>
<use href="#r" x="783.4" y="67.7"/>
<use href="#r" x="702.7" y="67.8"/>
<use href="#r" x="770.1" y="67.8"/>
<use href="#r" x="738.1" y="68.1"/>
<use href="#r" x="773.5" y="68.4"/>
<use href="#r" x="692.7" y="68.5"/>
<use href="#r" x="728.1" y="68.8"/>
<use href="#r" x="718.1" y="69.5"/>
<use href="#r" x="708.1" y="70.2"/>
<use href="#r" x="743.5" y="70.5"/>
<use href="#r" x="778.8" y="70.8"/>
<use href="#r" x="698.1" y="70.9"/>
<use href="#r" x="733.5" y="71.2"/>
<use href="#r" x="688.1" y="71.6"/>
<use href="#r" x="723.5" y="71.9"/>
<use href="#r" x="755.2" y="72.0"/>
<use href="#r" x="761.1" y="72.2"/>
<use href="#r" x="713.5" y="72.6"/>
<use href="#r" x="748.9" y="72.9"/>
<use href="#r" x="784.2" y="73.2"/>
<use href="#r" x="703.5" y="73.3"/>
<use href="#r" x="738.9" y="73.6"/>
<use href="#r" x="774.2" y="73.9"/>
<use href="#r" x="693.5" y="74.0"/>
<use href="#r" x="728.9" y="74.3"/>
<use href="#r" x="764.2" y="74.6"/>
<use href="#r" x="718.9" y="75.0"/>
<use href="#r" x="754.2" y="75.3"/>
<use href="#r" x="708.9" y="75.7"/>
<use href="#r" x="744.2" y="76.0"/>
<use href="#r" x="779.6" y="76.3"/>
<use href="#r" x="698.9" y="76.4"/>
<use href="#r" x="734.2" y="76.7"/>
<use href="#r" x="769.6" y="77.0"/>
<use href="#r" x="688.9" y="77.1"/>
<use href="#r" x="724.3" y="77.4"/>
<use href="#r" x="759.6" y="77.7"/>
<use href="#r" x="714.3" y="78.1"/>
<use href="#r" x="749.6" y="78.4"/>
<use href="#r" x="704.3" y="78.8"/>
<use href="#r" x="739.6" y="79.1"/>
<use href="#r" x="775.0" y="79.4"/>
<use href="#r" x="694.3" y="79.5"/>
<use href="#r" x="729.6" y="79.8"/>
<use href="#r" x="765.0" y="80.1"/>
<use href="#r" x="719.6" y="80.5"/>
<use href="#r" x="755.0" y="80.8"/>
<use href="#r" x="709.6" y="81.2"/>
<use href="#r" x="745.0" y="81.5"/>
<use href="#r" x="780.4" y="81.8"/>
<use href="#r" x="699.7" y="81.9"/>
<use href="#r" x="735.0" y="82.2"/>
<use href="#r" x="770.4" y="82.5"/>
<use href="#r" x="725.0" y="82.9"/>
<use href="#r" x="760.4" y="83.2"/>
<use href="#r" x="715.0" y="83.6"/>
<use href="#r" x="750.4" y="83.9"/>
<use href="#r" x="705.0" y="84.3"/>
<use href="#r" x="740.4" y="84.6"/>
<use href="#r" x="775.8" y="84.9"/>
<use href="#r" x="695.0" y="85.0"/>
<use href="#r" x="730.4" y="85.3"/>
<use href="#r" x="765.8" y="85.6"/>
<use href="#r" x="720.4" y="86.0"/>
<use href="#r" x="755.8" y="86.3"/>
<use href="#r" x="710.4" y="86.7"/>
<use href="#r" x="745.8" y="87.0"/>
<use href="#r" x="781.2" y="87.3"/>
<use href="#r" x="700.4" y="87.4"/>
<use href="#r" x="735.8" y="87.7"/>
<use href="#r" x="771.2" y="88.0"/>
<use href="#r" x="725.8" y="88.4"/>
<use href="#r" x="761.2" y="88.7"/>
<use href="#r" x="715.8" y="89.1"/>
<use href="#r" x="751.2" y="89.4"/>
<use href="#r" x="705.8" y="89.8"/>
<use href="#r" x="741.2" y="90.1"/>
<use href="#r" x="776.6" y="90.4"/>
<use href="#r" x="695.8" y="90.5"/>
<use href="#r" x="731.2" y="90.8"/>
<use href="#r" x="766.6" y="91.1"/>
<use href="#r" x="721.2" y="91.5"/>
<use href="#r" x="756.6" y="91.8"/>
<use href="#r" x="711.2" y="92.2"/>
<use href="#r" x="746.6" y="92.5"/>
<use href="#r" x="701.2" y="92.9"/>
<use href="#r" x="736.6" y="93.2"/>
<use href="#r" x="772.0" y="93.5"/>
<use href="#r" x="726.6" y="93.9"/>
<use href="#r" x="762.0" y="94.2"/>
<use href="#r" x="716.6" y="94.6"/>
<use href="#r" x="752.0" y="94.9"/>
<use href="#r" x="706.6" y="95.3"/>
<use href="#r" x="742.0" y="95.6"/>
<use href="#r" x="777.4" y="95.9"/>
<use href="#r" x="732.0" y="96.3"/>
<use href="#r" x="767.4" y="96.6"/>
<use href="#r" x="722.0" y="97.0"/>
<use href="#r" x="757.4" y="97.3"/>
<use href="#r" x="712.0" y="97.7"/>
<use href="#r" x="747.4" y="98.0"/>
<use href="#r" x="702.0" y="98.4"/>
<use href="#r" x="737.4" y="98.7"/>
<use href="#r" x="772.8" y="99.0"/>
<use href="#r" x="727.4" y="99.4"/>
<use href="#r" x="762.8" y="99.7"/>
<use href="#r" x="717.4" y="100.1"/>
<use href="#r" x="752.8" y="100.4"/>
<use href="#r" x="707.4" y="100.8"/>
<use href="#r" x="742.8" y="101.1"/>
<use href="#r" x="732.8" y="101.8"/>
<use href="#r" x="768.2" y="102.1"/>
<use href="#r" x="722.8" y="102.5"/>
<use href="#r" x="758.2" y="102.8"/>
<use href="#r" x="712.8" y="103.2"/>
<use href="#r" x="748.2" y="103.5"/>
<use href="#r" x="738.2" y="104.2"/>
<use href="#r" x="773.5" y="104.5"/>
<use href="#r" x="728.2" y="104.9"/>
<use href="#r" x="763.5" y="105.2"/>
<use href="#r" x="718.2" y="105.6"/>
<use href="#r" x="753.6" y="105.9"/>
<use href="#r" x="708.2" y="106.2"/>
<use href="#r" x="743.6" y="106.6"/>
<use href="#r" x="733.6" y="107.3"/>
<use href="#r" x="768.9" y="107.6"/>
<use href="#r" x="723.6" y="108.0"/>
<use href="#r" x="758.9" y="108.3"/>
<use href="#r" x="713.6" y="108.6"/>
<use href="#r" x="748.9" y="109.0"/>
<use href="#r" x="738.9" y="109.7"/>
<use href="#r" x="729.0" y="110.4"/>
<use href="#r" x="764.3" y="110.7"/>
<use href="#r" x="719.0" y="111.0"/>
<use href="#r" x="754.3" y="111.4"/>
<use href="#r" x="744.3" y="112.1"/>
<use href="#r" x="734.3" y="112.8"/>
<use href="#r" x="724.3" y="113.4"/>
<use href="#r" x="759.7" y="113.8"/>
<use href="#r" x="749.7" y="114.5"/>
<use href="#r" x="739.7" y="115.2"/>
<use href="#r" x="729.7" y="115.8"/>
<use href="#r" x="755.1" y="116.9"/>
<use href="#r" x="745.1" y="117.6"/>
<use href="#r" x="735.1" y="118.2"/>
<use href="#r" x="750.5" y="120.0"/>
<use href="#r" x="740.5" y="120.6"/>
<use href="#l" x="749.2" y="28.6"/>
<use href="#l" x="754.6" y="31.0"/>
<use href="#l" x="760.0" y="33.4"/>
<use href="#l" x="765.4" y="35.8"/>
<use href="#l" x="733.8" y="26.9"/>
<use href="#l" x="739.2" y="29.3"/>
<use href="#l" x="771.5" y="43.7"/>
<use href="#l" x="723.8" y="27.6"/>
<use href="#l" x="729.2" y="30.0"/>
<use href="#l" x="777.7" y="51.6"/>
<use href="#l" x="719.2" y="30.7"/>
<use href="#l" x="724.6" y="33.1"/>
<use href="#l" x="778.5" y="57.1"/>
<use href="#l" x="714.6" y="33.8"/>
<use href="#l" x="720.0" y="36.2"/>
<use href="#l" x="779.3" y="62.6"/>
<use href="#l" x="710.0" y="36.9"/>
<use href="#l" x="715.4" y="39.3"/>
<use href="#l" x="720.8" y="41.7"/>
<use href="#l" x="780.1" y="68.1"/>
<use href="#l" x="705.4" y="40.0"/>
<use href="#l" x="710.8" y="42.4"/>
<use href="#l" x="716.2" y="44.8"/>
<use href="#l" x="721.6" y="47.2"/>
<use href="#l" x="775.5" y="71.2"/>
<use href="#l" x="780.8" y="73.6"/>
<use href="#l" x="700.8" y="43.1"/>
<use href="#l" x="706.2" y="45.5"/>
<use href="#l" x="711.6" y="47.9"/>
<use href="#l" x="717.0" y="50.3"/>
<use href="#l" x="722.3" y="52.7"/>
<use href="#l" x="770.9" y="74.3"/>
<use href="#l" x="776.2" y="76.7"/>
<use href="#l" x="696.2" y="46.2"/>
<use href="#l" x="701.6" y="48.6"/>
<use href="#l" x="707.0" y="51.0"/>
<use href="#l" x="712.3" y="53.4"/>
<use href="#l" x="717.7" y="55.8"/>
<use href="#l" x="723.1" y="58.2"/>
<use href="#l" x="766.2" y="77.4"/>
<use href="#l" x="771.6" y="79.8"/>
<use href="#l" x="777.0" y="82.2"/>
<use href="#l" x="697.0" y="51.7"/>
<use href="#l" x="702.3" y="54.1"/>
<use href="#l" x="707.7" y="56.5"/>
<use href="#l" x="713.1" y="58.9"/>
<use href="#l" x="718.5" y="61.3"/>
<use href="#l" x="723.9" y="63.7"/>
<use href="#l" x="729.3" y="66.1"/>
<use href="#l" x="734.7" y="68.5"/>
<use href="#l" x="740.1" y="70.9"/>
<use href="#l" x="745.5" y="73.3"/>
<use href="#l" x="750.9" y="75.7"/>
<use href="#l" x="756.2" y="78.1"/>
<use href="#l" x="761.6" y="80.5"/>
<use href="#l" x="767.0" y="82.9"/>
<use href="#l" x="772.4" y="85.3"/>
<use href="#l" x="777.8" y="87.7"/>
<use href="#l" x="692.4" y="54.8"/>
<use href="#l" x="697.7" y="57.1"/>
<use href="#l" x="703.1" y="59.5"/>
<use href="#l" x="708.5" y="61.9"/>
<use href="#l" x="713.9" y="64.3"/>
<use href="#l" x="719.3" y="66.7"/>
<use href="#l" x="724.7" y="69.1"/>
<use href="#l" x="730.1" y="71.5"/>
<use href="#l" x="735.5" y="73.9"/>
<use href="#l" x="740.9" y="76.3"/>
<use href="#l" x="746.3" y="78.7"/>
<use href="#l" x="751.6" y="81.1"/>
<use href="#l" x="757.0" y="83.5"/>
<use href="#l" x="762.4" y="85.9"/>
<use href="#l" x="767.8" y="88.3"/>
<use href="#l" x="773.2" y="90.7"/>
<use href="#l" x="693.1" y="60.2"/>
<use href="#l" x="698.5" y="62.6"/>
<use href="#l" x="703.9" y="65.0"/>
<use href="#l" x="709.3" y="67.4"/>
<use href="#l" x="714.7" y="69.8"/>
<use href="#l" x="720.1" y="72.2"/>
<use href="#l" x="725.5" y="74.6"/>
<use href="#l" x="730.9" y="77.0"/>
<use href="#l" x="736.3" y="79.4"/>
<use href="#l" x="741.6" y="81.8"/>
<use href="#l" x="747.0" y="84.2"/>
<use href="#l" x="752.4" y="86.6"/>
<use href="#l" x="757.8" y="89.0"/>
<use href="#l" x="763.2" y="91.4"/>
<use href="#l" x="768.6" y="93.8"/>
<use href="#l" x="774.0" y="96.2"/>
<use href="#l" x="693.9" y="65.7"/>
<use href="#l" x="699.3" y="68.1"/>
<use href="#l" x="704.7" y="70.5"/>
<use href="#l" x="710.1" y="72.9"/>
<use href="#l" x="715.5" y="75.3"/>
<use href="#l" x="720.9" y="77.7"/>
<use href="#l" x="726.3" y="80.1"/>
<use href="#l" x="731.6" y="82.5"/>
<use href="#l" x="737.0" y="84.9"/>
<use href="#l" x="742.4" y="87.3"/>
<use href="#l" x="747.8" y="89.7"/>
<use href="#l" x="753.2" y="92.1"/>
<use href="#l" x="758.6" y="94.5"/>
<use href="#l" x="764.0" y="96.9"/>
<use href="#l" x="769.4" y="99.3"/>
<use href="#l" x="694.7" y="71.2"/>
<use href="#l" x="700.1" y="73.6"/>
<use href="#l" x="705.5" y="76.0"/>
<use href="#l" x="710.9" y="78.4"/>
<use href="#l" x="716.3" y="80.8"/>
<use href="#l" x="721.7" y="83.2"/>
<use href="#l" x="727.0" y="85.6"/>
<use href="#l" x="732.4" y="88.0"/>
<use href="#l" x="737.8" y="90.4"/>
<use href="#l" x="743.2" y="92.8"/>
<use href="#l" x="748.6" y="95.2"/>
<use href="#l" x="754.0" y="97.6"/>
<use href="#l" x="759.4" y="100.0"/>
<use href="#l" x="764.8" y="102.4"/>
<use href="#l" x="695.5" y="76.7"/>
<use href="#l" x="700.9" y="79.1"/>
<use href="#l" x="706.3" y="81.5"/>
<use href="#l" x="711.7" y="83.9"/>
<use href="#l" x="717.0" y="86.3"/>
<use href="#l" x="722.4" y="88.7"/>
<use href="#l" x="727.8" y="91.1"/>
<use href="#l" x="733.2" y="93.5"/>
<use href="#l" x="738.6" y="95.9"/>
<use href="#l" x="744.0" y="98.3"/>
<use href="#l" x="749.4" y="100.7"/>
<use href="#l" x="754.8" y="103.1"/>
<use href="#l" x="760.2" y="105.5"/>
<use href="#l" x="696.3" y="82.2"/>
<use href="#l" x="701.7" y="84.6"/>
<use href="#l" x="707.0" y="87.0"/>
<use href="#l" x="712.4" y="89.4"/>
<use href="#l" x="717.8" y="91.8"/>
<use href="#l" x="723.2" y="94.2"/>
<use href="#l" x="728.6" y="96.6"/>
<use href="#l" x="734.0" y="99.0"/>
<use href="#l" x="739.4" y="101.4"/>
<use href="#l" x="744.8" y="103.8"/>
<use href="#l" x="750.2" y="106.2"/>
<use href="#l" x="755.6" y="108.6"/>
<use href="#l" x="760.9" y="111.0"/>
<use href="#l" x="702.4" y="90.1"/>
<use href="#l" x="707.8" y="92.5"/>
<use href="#l" x="713.2" y="94.9"/>
<use href="#l" x="718.6" y="97.3"/>
<use href="#l" x="724.0" y="99.7"/>
<use href="#l" x="729.4" y="102.1"/>
<use href="#l" x="734.8" y="104.5"/>
<use href="#l" x="740.2" y="106.9"/>
<use href="#l" x="745.6" y="109.3"/>
<use href="#l" x="751.0" y="111.7"/>
<use href="#l" x="708.6" y="98.0"/>
<use href="#l" x="714.0" y="100.4"/>
<use href="#l" x="719.4" y="102.8"/>
<use href="#l" x="724.8" y="105.2"/>
<use href="#l" x="730.2" y="107.6"/>
<use href="#l" x="735.6" y="110.0"/>
<use href="#l" x="741.0" y="112.4"/>
<use href="#l" x="746.3" y="114.8"/>
<use href="#l" x="714.8" y="105.9"/>
<use href="#l" x="720.2" y="108.3"/>
<use href="#l" x="725.6" y="110.7"/>
<use href="#l" x="731.0" y="113.1"/>
<use href="#l" x="736.3" y="115.5"/>
<use href="#L" x="733.0" y="33.6"/>
<use href="#L" x="750.7" y="34.2"/>
<use href="#L" x="741.6" y="38.6"/>
<use href="#L" x="759.3" y="39.2"/>
<use href="#L" x="732.6" y="43.0"/>
<use href="#L" x="750.3" y="43.6"/>
<use href="#L" x="741.3" y="48.0"/>
<use href="#L" x="759.0" y="48.6"/>
<use href="#L" x="732.3" y="52.4"/>
<use href="#L" x="750.0" y="53.0"/>
<use href="#L" x="767.7" y="53.6"/>
<use href="#L" x="741.0" y="57.4"/>
<use href="#L" x="758.7" y="58.0"/>
<use href="#L" x="749.7" y="62.4"/>
<use href="#L" x="767.4" y="63.0"/>
<use href="#L" x="740.7" y="66.8"/>
<use href="#L" x="758.4" y="67.4"/>
<use href="#L" x="749.3" y="71.8"/>
<use href="#L" x="767.0" y="72.4"/>
<use href="#b" x="732.5" y="90.2"/>
<use href="#lb" x="740.2" y="90.2"/>
<use href="#b" x="736.2" y="96.0"/>
<use href="#b" x="743.9" y="96.0"/>
<use href="#lb" x="751.6" y="96.0"/>
<use href="#b" x="742.4" y="102.2"/>
<use href="#b" x="749.6" y="103.2"/>
<use href="#b" x="755.6" y="101.0"/></g>
<g id="qd-crinp"><polygon points="849.2,164.5 881.8,164.5 899.1,176.3 911.8,193.7 915.8,214.7 912.5,233.9 901.0,251.3 881.8,262.8 862.6,265.6 843.4,259.0 826.1,243.6 814.6,222.4 811.8,199.4 818.5,184.0 831.9,172.5" fill="#b42c54"/>
<use href="#r" x="877.1" y="163.1"/>
<use href="#r" x="867.1" y="163.8"/>
<use href="#r" x="857.1" y="164.4"/>
<use href="#r" x="847.1" y="165.1"/>
<use href="#r" x="882.5" y="165.5"/>
<use href="#r" x="872.5" y="166.2"/>
<use href="#r" x="862.5" y="166.8"/>
<use href="#r" x="852.5" y="167.5"/>
<use href="#r" x="887.9" y="167.9"/>
<use href="#r" x="842.5" y="168.2"/>
<use href="#r" x="877.9" y="168.6"/>
<use href="#r" x="867.9" y="169.2"/>
<use href="#r" x="857.9" y="169.9"/>
<use href="#r" x="893.2" y="170.3"/>
<use href="#r" x="847.9" y="170.6"/>
<use href="#r" x="883.2" y="171.0"/>
<use href="#r" x="837.9" y="171.3"/>
<use href="#r" x="873.3" y="171.6"/>
<use href="#r" x="863.3" y="172.3"/>
<use href="#r" x="853.3" y="173.0"/>
<use href="#r" x="888.6" y="173.4"/>
<use href="#r" x="843.3" y="173.7"/>
<use href="#r" x="866.9" y="173.8"/>
<use href="#r" x="872.8" y="174.0"/>
<use href="#r" x="833.3" y="174.4"/>
<use href="#r" x="894.0" y="175.8"/>
<use href="#r" x="848.7" y="176.1"/>
<use href="#r" x="838.7" y="176.8"/>
<use href="#r" x="828.7" y="177.5"/>
<use href="#r" x="899.4" y="178.2"/>
<use href="#r" x="857.9" y="178.2"/>
<use href="#r" x="863.8" y="178.4"/>
<use href="#r" x="875.5" y="178.8"/>
<use href="#r" x="889.4" y="178.8"/>
<use href="#r" x="881.4" y="179.0"/>
<use href="#r" x="844.0" y="179.2"/>
<use href="#r" x="834.1" y="179.9"/>
<use href="#r" x="904.8" y="180.6"/>
<use href="#r" x="824.1" y="180.6"/>
<use href="#r" x="894.8" y="181.2"/>
<use href="#r" x="849.4" y="181.6"/>
<use href="#r" x="839.4" y="182.3"/>
<use href="#r" x="854.7" y="182.8"/>
<use href="#r" x="829.4" y="183.0"/>
<use href="#r" x="866.5" y="183.2"/>
<use href="#r" x="872.4" y="183.4"/>
<use href="#r" x="900.2" y="183.6"/>
<use href="#r" x="819.4" y="183.7"/>
<use href="#r" x="884.2" y="183.8"/>
<use href="#r" x="890.1" y="184.0"/>
<use href="#r" x="844.8" y="184.7"/>
<use href="#r" x="834.8" y="185.4"/>
<use href="#r" x="905.6" y="186.0"/>
<use href="#r" x="824.8" y="186.1"/>
<use href="#r" x="814.8" y="186.8"/>
<use href="#r" x="850.2" y="187.1"/>
<use href="#r" x="857.5" y="187.6"/>
<use href="#r" x="863.4" y="187.8"/>
<use href="#r" x="840.2" y="187.8"/>
<use href="#r" x="875.2" y="188.2"/>
<use href="#r" x="881.1" y="188.4"/>
<use href="#r" x="830.2" y="188.5"/>
<use href="#r" x="892.9" y="188.8"/>
<use href="#r" x="898.8" y="189.0"/>
<use href="#r" x="901.0" y="189.1"/>
<use href="#r" x="820.2" y="189.2"/>
<use href="#r" x="845.6" y="190.2"/>
<use href="#r" x="835.6" y="190.9"/>
<use href="#r" x="906.4" y="191.5"/>
<use href="#r" x="825.6" y="191.6"/>
<use href="#r" x="854.4" y="192.2"/>
<use href="#r" x="815.6" y="192.3"/>
<use href="#r" x="866.2" y="192.6"/>
<use href="#r" x="851.0" y="192.6"/>
<use href="#r" x="872.1" y="192.8"/>
<use href="#r" x="883.9" y="193.2"/>
<use href="#r" x="841.0" y="193.3"/>
<use href="#r" x="889.8" y="193.4"/>
<use href="#r" x="901.6" y="193.8"/>
<use href="#r" x="911.8" y="193.9"/>
<use href="#r" x="831.0" y="194.0"/>
<use href="#r" x="821.0" y="194.7"/>
<use href="#r" x="811.0" y="195.4"/>
<use href="#r" x="846.4" y="195.7"/>
<use href="#r" x="836.4" y="196.4"/>
<use href="#r" x="857.2" y="197.0"/>
<use href="#r" x="907.2" y="197.0"/>
<use href="#r" x="826.4" y="197.1"/>
<use href="#r" x="863.1" y="197.2"/>
<use href="#r" x="874.9" y="197.6"/>
<use href="#r" x="816.4" y="197.8"/>
<use href="#r" x="880.8" y="197.8"/>
<use href="#r" x="851.8" y="198.1"/>
<use href="#r" x="892.6" y="198.2"/>
<use href="#r" x="898.5" y="198.4"/>
<use href="#r" x="841.8" y="198.8"/>
<use href="#r" x="912.5" y="199.4"/>
<use href="#r" x="831.8" y="199.5"/>
<use href="#r" x="821.8" y="200.2"/>
<use href="#r" x="857.2" y="200.5"/>
<use href="#r" x="811.8" y="200.9"/>
<use href="#r" x="847.2" y="201.2"/>
<use href="#r" x="837.2" y="201.9"/>
<use href="#r" x="865.9" y="202.0"/>
<use href="#r" x="871.8" y="202.2"/>
<use href="#r" x="907.9" y="202.5"/>
<use href="#r" x="827.2" y="202.6"/>
<use href="#r" x="883.6" y="202.6"/>
<use href="#r" x="889.5" y="202.8"/>
<use href="#r" x="901.3" y="203.2"/>
<use href="#r" x="817.2" y="203.3"/>
<use href="#r" x="852.6" y="203.6"/>
<use href="#r" x="842.6" y="204.3"/>
<use href="#r" x="913.3" y="204.9"/>
<use href="#r" x="832.6" y="205.0"/>
<use href="#r" x="903.3" y="205.6"/>
<use href="#r" x="822.6" y="205.7"/>
<use href="#r" x="858.0" y="206.0"/>
<use href="#r" x="812.6" y="206.4"/>
<use href="#r" x="848.0" y="206.7"/>
<use href="#r" x="874.6" y="207.0"/>
<use href="#r" x="880.5" y="207.2"/>
<use href="#r" x="838.0" y="207.4"/>
<use href="#r" x="892.2" y="207.6"/>
<use href="#r" x="898.1" y="207.8"/>
<use href="#r" x="908.7" y="208.0"/>
<use href="#r" x="828.0" y="208.1"/>
<use href="#r" x="863.3" y="208.4"/>
<use href="#r" x="818.0" y="208.8"/>
<use href="#r" x="853.4" y="209.1"/>
<use href="#r" x="843.4" y="209.8"/>
<use href="#r" x="914.1" y="210.4"/>
<use href="#r" x="833.4" y="210.5"/>
<use href="#r" x="868.7" y="210.8"/>
<use href="#r" x="904.1" y="211.1"/>
<use href="#r" x="823.4" y="211.2"/>
<use href="#r" x="858.7" y="211.5"/>
<use href="#r" x="813.4" y="211.9"/>
<use href="#r" x="883.2" y="212.0"/>
<use href="#r" x="848.7" y="212.2"/>
<use href="#r" x="889.1" y="212.2"/>
<use href="#r" x="838.7" y="212.9"/>
<use href="#r" x="874.1" y="213.2"/>
<use href="#r" x="909.5" y="213.5"/>
<use href="#r" x="828.8" y="213.6"/>
<use href="#r" x="864.1" y="213.9"/>
<use href="#r" x="899.5" y="214.2"/>
<use href="#r" x="818.8" y="214.3"/>
<use href="#r" x="854.1" y="214.6"/>
<use href="#r" x="889.5" y="214.9"/>
<use href="#r" x="844.1" y="215.3"/>
<use href="#r" x="879.5" y="215.6"/>
<use href="#r" x="914.9" y="215.9"/>
<use href="#r" x="834.1" y="216.0"/>
<use href="#r" x="869.5" y="216.3"/>
<use href="#r" x="904.9" y="216.6"/>
<use href="#r" x="824.1" y="216.7"/>
<use href="#r" x="859.5" y="217.0"/>
<use href="#r" x="894.9" y="217.3"/>
<use href="#r" x="814.2" y="217.4"/>
<use href="#r" x="849.5" y="217.7"/>
<use href="#r" x="884.9" y="218.0"/>
<use href="#r" x="839.5" y="218.4"/>
<use href="#r" x="874.9" y="218.7"/>
<use href="#r" x="910.3" y="219.0"/>
<use href="#r" x="829.5" y="219.1"/>
<use href="#r" x="864.9" y="219.4"/>
<use href="#r" x="900.3" y="219.7"/>
<use href="#r" x="819.5" y="219.8"/>
<use href="#r" x="854.9" y="220.1"/>
<use href="#r" x="890.3" y="220.4"/>
<use href="#r" x="844.9" y="220.8"/>
<use href="#r" x="880.3" y="221.1"/>
<use href="#r" x="915.7" y="221.4"/>
<use href="#r" x="834.9" y="221.5"/>
<use href="#r" x="870.3" y="221.8"/>
<use href="#r" x="905.7" y="222.1"/>
<use href="#r" x="824.9" y="222.2"/>
<use href="#r" x="860.3" y="222.5"/>
<use href="#r" x="895.7" y="222.8"/>
<use href="#r" x="814.9" y="222.9"/>
<use href="#r" x="850.3" y="223.2"/>
<use href="#r" x="885.7" y="223.5"/>
<use href="#r" x="840.3" y="223.9"/>
<use href="#r" x="875.7" y="224.2"/>
<use href="#r" x="911.1" y="224.5"/>
<use href="#r" x="830.3" y="224.6"/>
<use href="#r" x="865.7" y="224.9"/>
<use href="#r" x="901.1" y="225.2"/>
<use href="#r" x="820.3" y="225.3"/>
<use href="#r" x="855.7" y="225.6"/>
<use href="#r" x="891.1" y="225.9"/>
<use href="#r" x="845.7" y="226.3"/>
<use href="#r" x="881.1" y="226.6"/>
<use href="#r" x="835.7" y="227.0"/>
<use href="#r" x="871.1" y="227.3"/>
<use href="#r" x="906.5" y="227.6"/>
<use href="#r" x="825.7" y="227.7"/>
<use href="#r" x="861.1" y="228.0"/>
<use href="#r" x="896.5" y="228.3"/>
<use href="#r" x="815.7" y="228.3"/>
<use href="#r" x="851.1" y="228.7"/>
<use href="#r" x="886.5" y="229.0"/>
<use href="#r" x="841.1" y="229.4"/>
<use href="#r" x="876.5" y="229.7"/>
<use href="#r" x="911.9" y="230.0"/>
<use href="#r" x="831.1" y="230.1"/>
<use href="#r" x="866.5" y="230.4"/>
<use href="#r" x="901.9" y="230.7"/>
<use href="#r" x="821.1" y="230.7"/>
<use href="#r" x="856.5" y="231.1"/>
<use href="#r" x="891.9" y="231.4"/>
<use href="#r" x="846.5" y="231.8"/>
<use href="#r" x="881.9" y="232.1"/>
<use href="#r" x="836.5" y="232.5"/>
<use href="#r" x="871.9" y="232.8"/>
<use href="#r" x="907.3" y="233.1"/>
<use href="#r" x="826.5" y="233.1"/>
<use href="#r" x="861.9" y="233.5"/>
<use href="#r" x="897.3" y="233.8"/>
<use href="#r" x="851.9" y="234.2"/>
<use href="#r" x="887.3" y="234.5"/>
<use href="#r" x="841.9" y="234.9"/>
<use href="#r" x="877.3" y="235.2"/>
<use href="#r" x="912.6" y="235.5"/>
<use href="#r" x="831.9" y="235.5"/>
<use href="#r" x="867.3" y="235.9"/>
<use href="#r" x="902.6" y="236.2"/>
<use href="#r" x="821.9" y="236.2"/>
<use href="#r" x="857.3" y="236.6"/>
<use href="#r" x="892.6" y="236.9"/>
<use href="#r" x="847.3" y="237.3"/>
<use href="#r" x="882.7" y="237.6"/>
<use href="#r" x="837.3" y="237.9"/>
<use href="#r" x="872.7" y="238.3"/>
<use href="#r" x="908.0" y="238.6"/>
<use href="#r" x="827.3" y="238.6"/>
<use href="#r" x="862.7" y="239.0"/>
<use href="#r" x="898.0" y="239.3"/>
<use href="#r" x="852.7" y="239.7"/>
<use href="#r" x="888.0" y="240.0"/>
<use href="#r" x="842.7" y="240.3"/>
<use href="#r" x="878.0" y="240.7"/>
<use href="#r" x="832.7" y="241.0"/>
<use href="#r" x="868.0" y="241.4"/>
<use href="#r" x="903.4" y="241.7"/>
<use href="#r" x="858.1" y="242.1"/>
<use href="#r" x="893.4" y="242.4"/>
<use href="#r" x="848.1" y="242.7"/>
<use href="#r" x="883.4" y="243.1"/>
<use href="#r" x="838.1" y="243.4"/>
<use href="#r" x="873.4" y="243.8"/>
<use href="#r" x="828.1" y="244.1"/>
<use href="#r" x="863.4" y="244.5"/>
<use href="#r" x="898.8" y="244.8"/>
<use href="#r" x="853.4" y="245.1"/>
<use href="#r" x="888.8" y="245.5"/>
<use href="#r" x="843.4" y="245.8"/>
<use href="#r" x="878.8" y="246.2"/>
<use href="#r" x="833.5" y="246.5"/>
<use href="#r" x="868.8" y="246.9"/>
<use href="#r" x="904.2" y="247.2"/>
<use href="#r" x="858.8" y="247.5"/>
<use href="#r" x="894.2" y="247.9"/>
<use href="#r" x="848.8" y="248.2"/>
<use href="#r" x="884.2" y="248.6"/>
<use href="#r" x="838.8" y="248.9"/>
<use href="#r" x="874.2" y="249.3"/>
<use href="#r" x="864.2" y="249.9"/>
<use href="#r" x="899.6" y="250.3"/>
<use href="#r" x="854.2" y="250.6"/>
<use href="#r" x="889.6" y="251.0"/>
<use href="#r" x="844.2" y="251.3"/>
<use href="#r" x="879.6" y="251.7"/>
<use href="#r" x="834.2" y="252.0"/>
<use href="#r" x="869.6" y="252.3"/>
<use href="#r" x="859.6" y="253.0"/>
<use href="#r" x="895.0" y="253.4"/>
<use href="#r" x="849.6" y="253.7"/>
<use href="#r" x="885.0" y="254.1"/>
<use href="#r" x="839.6" y="254.4"/>
<use href="#r" x="875.0" y="254.7"/>
<use href="#r" x="865.0" y="255.4"/>
<use href="#r" x="855.0" y="256.1"/>
<use href="#r" x="890.4" y="256.5"/>
<use href="#r" x="845.0" y="256.8"/>
<use href="#r" x="880.4" y="257.1"/>
<use href="#r" x="870.4" y="257.8"/>
<use href="#r" x="860.4" y="258.5"/>
<use href="#r" x="850.4" y="259.2"/>
<use href="#r" x="885.8" y="259.5"/>
<use href="#r" x="875.8" y="260.2"/>
<use href="#r" x="865.8" y="260.9"/>
<use href="#r" x="855.8" y="261.6"/>
<use href="#r" x="881.2" y="262.6"/>
<use href="#r" x="871.2" y="263.3"/>
<use href="#r" x="861.2" y="264.0"/>
<use href="#r" x="876.6" y="265.7"/>
<use href="#r" x="866.6" y="266.4"/>
<use href="#l" x="874.5" y="168.9"/>
<use href="#l" x="879.9" y="171.3"/>
<use href="#l" x="885.3" y="173.7"/>
<use href="#l" x="890.6" y="176.1"/>
<use href="#l" x="896.0" y="178.5"/>
<use href="#l" x="859.1" y="167.2"/>
<use href="#l" x="864.5" y="169.6"/>
<use href="#l" x="902.2" y="186.4"/>
<use href="#l" x="849.1" y="167.9"/>
<use href="#l" x="854.5" y="170.3"/>
<use href="#l" x="908.4" y="194.3"/>
<use href="#l" x="844.5" y="171.0"/>
<use href="#l" x="849.9" y="173.4"/>
<use href="#l" x="909.2" y="199.8"/>
<use href="#l" x="839.9" y="174.1"/>
<use href="#l" x="845.3" y="176.5"/>
<use href="#l" x="850.7" y="178.9"/>
<use href="#l" x="909.9" y="205.3"/>
<use href="#l" x="835.3" y="177.2"/>
<use href="#l" x="840.7" y="179.6"/>
<use href="#l" x="846.1" y="182.0"/>
<use href="#l" x="905.3" y="208.4"/>
<use href="#l" x="910.7" y="210.8"/>
<use href="#l" x="830.7" y="180.3"/>
<use href="#l" x="836.1" y="182.7"/>
<use href="#l" x="841.4" y="185.1"/>
<use href="#l" x="846.8" y="187.5"/>
<use href="#l" x="906.1" y="213.9"/>
<use href="#l" x="911.5" y="216.3"/>
<use href="#l" x="826.1" y="183.4"/>
<use href="#l" x="831.5" y="185.8"/>
<use href="#l" x="836.8" y="188.2"/>
<use href="#l" x="842.2" y="190.6"/>
<use href="#l" x="847.6" y="193.0"/>
<use href="#l" x="896.1" y="214.6"/>
<use href="#l" x="901.5" y="217.0"/>
<use href="#l" x="906.9" y="219.4"/>
<use href="#l" x="912.3" y="221.8"/>
<use href="#l" x="821.5" y="186.5"/>
<use href="#l" x="826.8" y="188.9"/>
<use href="#l" x="832.2" y="191.2"/>
<use href="#l" x="837.6" y="193.6"/>
<use href="#l" x="843.0" y="196.0"/>
<use href="#l" x="848.4" y="198.4"/>
<use href="#l" x="853.8" y="200.8"/>
<use href="#l" x="891.5" y="217.6"/>
<use href="#l" x="896.9" y="220.0"/>
<use href="#l" x="902.3" y="222.4"/>
<use href="#l" x="907.7" y="224.8"/>
<use href="#l" x="822.2" y="191.9"/>
<use href="#l" x="827.6" y="194.3"/>
<use href="#l" x="833.0" y="196.7"/>
<use href="#l" x="838.4" y="199.1"/>
<use href="#l" x="843.8" y="201.5"/>
<use href="#l" x="849.2" y="203.9"/>
<use href="#l" x="854.6" y="206.3"/>
<use href="#l" x="860.0" y="208.7"/>
<use href="#l" x="865.4" y="211.1"/>
<use href="#l" x="870.7" y="213.5"/>
<use href="#l" x="876.1" y="215.9"/>
<use href="#l" x="881.5" y="218.3"/>
<use href="#l" x="886.9" y="220.7"/>
<use href="#l" x="892.3" y="223.1"/>
<use href="#l" x="897.7" y="225.5"/>
<use href="#l" x="903.1" y="227.9"/>
<use href="#l" x="908.5" y="230.3"/>
<use href="#l" x="817.6" y="195.0"/>
<use href="#l" x="823.0" y="197.4"/>
<use href="#l" x="828.4" y="199.8"/>
<use href="#l" x="833.8" y="202.2"/>
<use href="#l" x="839.2" y="204.6"/>
<use href="#l" x="844.6" y="207.0"/>
<use href="#l" x="850.0" y="209.4"/>
<use href="#l" x="855.4" y="211.8"/>
<use href="#l" x="860.7" y="214.2"/>
<use href="#l" x="866.1" y="216.6"/>
<use href="#l" x="871.5" y="219.0"/>
<use href="#l" x="876.9" y="221.4"/>
<use href="#l" x="882.3" y="223.8"/>
<use href="#l" x="887.7" y="226.2"/>
<use href="#l" x="893.1" y="228.6"/>
<use href="#l" x="898.5" y="231.0"/>
<use href="#l" x="903.9" y="233.4"/>
<use href="#l" x="818.4" y="200.5"/>
<use href="#l" x="823.8" y="202.9"/>
<use href="#l" x="829.2" y="205.3"/>
<use href="#l" x="834.6" y="207.7"/>
<use href="#l" x="840.0" y="210.1"/>
<use href="#l" x="845.4" y="212.5"/>
<use href="#l" x="850.8" y="214.9"/>
<use href="#l" x="856.1" y="217.3"/>
<use href="#l" x="861.5" y="219.7"/>
<use href="#l" x="866.9" y="222.1"/>
<use href="#l" x="872.3" y="224.5"/>
<use href="#l" x="877.7" y="226.9"/>
<use href="#l" x="883.1" y="229.3"/>
<use href="#l" x="888.5" y="231.7"/>
<use href="#l" x="893.9" y="234.1"/>
<use href="#l" x="899.3" y="236.5"/>
<use href="#l" x="904.7" y="238.9"/>
<use href="#l" x="819.2" y="206.0"/>
<use href="#l" x="824.6" y="208.4"/>
<use href="#l" x="830.0" y="210.8"/>
<use href="#l" x="835.4" y="213.2"/>
<use href="#l" x="840.8" y="215.6"/>
<use href="#l" x="846.1" y="218.0"/>
<use href="#l" x="851.5" y="220.4"/>
<use href="#l" x="856.9" y="222.8"/>
<use href="#l" x="862.3" y="225.2"/>
<use href="#l" x="867.7" y="227.6"/>
<use href="#l" x="873.1" y="230.0"/>
<use href="#l" x="878.5" y="232.4"/>
<use href="#l" x="883.9" y="234.8"/>
<use href="#l" x="889.3" y="237.2"/>
<use href="#l" x="894.7" y="239.6"/>
<use href="#l" x="900.0" y="242.0"/>
<use href="#l" x="820.0" y="211.5"/>
<use href="#l" x="825.4" y="213.9"/>
<use href="#l" x="830.8" y="216.3"/>
<use href="#l" x="836.1" y="218.7"/>
<use href="#l" x="841.5" y="221.1"/>
<use href="#l" x="846.9" y="223.5"/>
<use href="#l" x="852.3" y="225.9"/>
<use href="#l" x="857.7" y="228.3"/>
<use href="#l" x="863.1" y="230.7"/>
<use href="#l" x="868.5" y="233.1"/>
<use href="#l" x="873.9" y="235.5"/>
<use href="#l" x="879.3" y="237.9"/>
<use href="#l" x="884.7" y="240.3"/>
<use href="#l" x="890.0" y="242.7"/>
<use href="#l" x="895.4" y="245.1"/>
<use href="#l" x="900.8" y="247.5"/>
<use href="#l" x="820.8" y="217.0"/>
<use href="#l" x="826.2" y="219.4"/>
<use href="#l" x="831.5" y="221.8"/>
<use href="#l" x="836.9" y="224.2"/>
<use href="#l" x="842.3" y="226.6"/>
<use href="#l" x="847.7" y="229.0"/>
<use href="#l" x="853.1" y="231.4"/>
<use href="#l" x="858.5" y="233.8"/>
<use href="#l" x="863.9" y="236.2"/>
<use href="#l" x="869.3" y="238.6"/>
<use href="#l" x="874.7" y="241.0"/>
<use href="#l" x="880.1" y="243.4"/>
<use href="#l" x="885.4" y="245.8"/>
<use href="#l" x="890.8" y="248.2"/>
<use href="#l" x="896.2" y="250.6"/>
<use href="#l" x="821.5" y="222.5"/>
<use href="#l" x="826.9" y="224.9"/>
<use href="#l" x="832.3" y="227.3"/>
<use href="#l" x="837.7" y="229.7"/>
<use href="#l" x="843.1" y="232.1"/>
<use href="#l" x="848.5" y="234.5"/>
<use href="#l" x="853.9" y="236.9"/>
<use href="#l" x="859.3" y="239.3"/>
<use href="#l" x="864.7" y="241.7"/>
<use href="#l" x="870.1" y="244.1"/>
<use href="#l" x="875.4" y="246.5"/>
<use href="#l" x="880.8" y="248.9"/>
<use href="#l" x="886.2" y="251.3"/>
<use href="#l" x="891.6" y="253.7"/>
<use href="#l" x="822.3" y="228.0"/>
<use href="#l" x="827.7" y="230.4"/>
<use href="#l" x="833.1" y="232.8"/>
<use href="#l" x="838.5" y="235.2"/>
<use href="#l" x="843.9" y="237.6"/>
<use href="#l" x="849.3" y="240.0"/>
<use href="#l" x="854.7" y="242.4"/>
<use href="#l" x="860.1" y="244.8"/>
<use href="#l" x="865.4" y="247.2"/>
<use href="#l" x="870.8" y="249.6"/>
<use href="#l" x="876.2" y="252.0"/>
<use href="#l" x="881.6" y="254.4"/>
<use href="#l" x="887.0" y="256.8"/>
<use href="#l" x="828.5" y="235.9"/>
<use href="#l" x="833.9" y="238.3"/>
<use href="#l" x="839.3" y="240.7"/>
<use href="#l" x="844.7" y="243.1"/>
<use href="#l" x="850.1" y="245.5"/>
<use href="#l" x="855.5" y="247.9"/>
<use href="#l" x="860.8" y="250.3"/>
<use href="#l" x="866.2" y="252.7"/>
<use href="#l" x="871.6" y="255.1"/>
<use href="#l" x="877.0" y="257.5"/>
<use href="#l" x="882.4" y="259.9"/>
<use href="#l" x="829.3" y="241.4"/>
<use href="#l" x="834.7" y="243.8"/>
<use href="#l" x="840.1" y="246.2"/>
<use href="#l" x="845.5" y="248.6"/>
<use href="#l" x="850.8" y="251.0"/>
<use href="#l" x="856.2" y="253.4"/>
<use href="#l" x="861.6" y="255.8"/>
<use href="#l" x="867.0" y="258.2"/>
<use href="#l" x="872.4" y="260.6"/>
<use href="#l" x="840.8" y="251.7"/>
<use href="#l" x="846.2" y="254.1"/>
<use href="#l" x="851.6" y="256.5"/>
<use href="#l" x="857.0" y="258.9"/>
<use href="#l" x="862.4" y="261.3"/>
<use href="#L" x="861.0" y="173.6"/>
<use href="#L" x="878.7" y="174.2"/>
<use href="#L" x="869.6" y="178.6"/>
<use href="#L" x="887.3" y="179.2"/>
<use href="#L" x="860.6" y="183.0"/>
<use href="#L" x="878.3" y="183.6"/>
<use href="#L" x="869.3" y="188.0"/>
<use href="#L" x="887.0" y="188.6"/>
<use href="#L" x="860.3" y="192.4"/>
<use href="#L" x="878.0" y="193.0"/>
<use href="#L" x="895.7" y="193.6"/>
<use href="#L" x="869.0" y="197.4"/>
<use href="#L" x="886.7" y="198.0"/>
<use href="#L" x="877.7" y="202.4"/>
<use href="#L" x="895.4" y="203.0"/>
<use href="#L" x="868.7" y="206.8"/>
<use href="#L" x="886.4" y="207.4"/>
<use href="#L" x="877.3" y="211.8"/>
<use href="#L" x="895.0" y="212.4"/>
<use href="#p" x="827.3" y="180.4"/>
<use href="#p" x="896.2" y="176.2"/>
<use href="#p" x="856.6" y="206.2"/>
<use href="#p" x="898.6" y="225.0"/>
<use href="#p" x="842.0" y="232.0"/>
<use href="#p" x="885.0" y="253.0"/></g>

<!-- pointer line -->
<path d="M762.9 95.3 L831.5 73.6" stroke="#111" stroke-width="2.4" stroke-linecap="round"/>

<!-- text -->
<text id="t10" class="ax" font-size="24" x="181.00" y="129.4" textLength="33.16" lengthAdjust="spacingAndGlyphs">1.0</text>
<text id="t05" class="ax" font-size="24" x="180.92" y="273.3" textLength="33.05" lengthAdjust="spacingAndGlyphs">0.5</text>
<text id="t00" class="ax" font-size="24" x="180.78" y="417.8" textLength="33.25" lengthAdjust="spacingAndGlyphs">0.0</text>
<text id="cdse" class="lab" font-size="30.5" x="214.85" y="444.6" textLength="152.00" lengthAdjust="spacingAndGlyphs">CdSe QDs</text>
<text id="cucdse" class="lab" font-size="29" x="358.29" y="479.6" textLength="204.03" lengthAdjust="spacingAndGlyphs">Cu:CdSe<tspan dx="2.2"> QDs</tspan></text>
<text id="inp" class="lab" font-size="28.7" x="545.39" y="440.8" textLength="123.27" lengthAdjust="spacingAndGlyphs">I<tspan dx="2.6">nP</tspan><tspan dx="1.5"> QDs</tspan></text>
<text id="cuinp" class="lab" font-size="28" x="647.71" y="479.8" textLength="178.53" lengthAdjust="spacingAndGlyphs">Cu:I<tspan dx="2.6">nP</tspan><tspan dx="1.5"> QDs</tspan></text>
<text id="crinp" class="lab" font-size="28.7" x="777.74" y="445.0" textLength="171.98" lengthAdjust="spacingAndGlyphs">Cr:I<tspan dx="3.6">nP</tspan><tspan dx="1.5"> QDs</tspan></text>
<text id="dop1" class="ann" font-size="30" x="415.18" y="310.6" textLength="104.08" lengthAdjust="spacingAndGlyphs">Doped</text>
<text id="p1a" class="ann" font-size="33" x="421.98" y="349.5" textLength="15.72" lengthAdjust="spacingAndGlyphs">(</text>
<text id="cu1" class="ann" font-size="29" x="437.53" y="348.7" textLength="43.72" lengthAdjust="spacingAndGlyphs">Cu</text>
<text id="pl1" class="sup" font-size="18.5" x="480.17" y="338.4" textLength="15.55" lengthAdjust="spacingAndGlyphs">+</text>
<text id="p1b" class="ann" font-size="33" x="497.04" y="349.5" textLength="15.66" lengthAdjust="spacingAndGlyphs">)</text>
<text id="seg" class="ann" font-size="34" x="785.19" y="46.5" textLength="218.36" lengthAdjust="spacingAndGlyphs">Segregated</text>
<text id="p2a" class="ann" font-size="38" x="841.98" y="90.6" textLength="18.47" lengthAdjust="spacingAndGlyphs">(</text>
<text id="cu2" class="ann" font-size="33" x="859.97" y="89.5" textLength="49.75" lengthAdjust="spacingAndGlyphs">Cu</text>
<text id="pl2" class="sup2" font-size="22" x="909.09" y="78.2" textLength="19.40" lengthAdjust="spacingAndGlyphs">+</text>
<text id="p2b" class="ann" font-size="38" x="928.53" y="90.6" textLength="18.48" lengthAdjust="spacingAndGlyphs">)</text>
<text id="dop2" class="ann" font-size="30" x="815.12" y="306.6" textLength="103.91" lengthAdjust="spacingAndGlyphs">Doped</text>
<text id="p3a" class="ann" font-size="33.5" x="818.78" y="345.4" textLength="16.15" lengthAdjust="spacingAndGlyphs">(</text>
<text id="cr3" class="ann" font-size="29" x="834.68" y="343.5" textLength="35.27" lengthAdjust="spacingAndGlyphs">Cr</text>
<text id="two" class="sup" font-size="20" x="870.76" y="335.4" textLength="14.90" lengthAdjust="spacingAndGlyphs">2</text>
<text id="pl3" class="sup" font-size="18.5" x="884.49" y="335.5" textLength="16.56" lengthAdjust="spacingAndGlyphs">+</text>
<text id="p3b" class="ann" font-size="33.5" x="901.18" y="345.4" textLength="16.36" lengthAdjust="spacingAndGlyphs">)</text>
<text id="ylab" class="ax" font-size="26.2" word-spacing="1.8" transform="translate(164.9,467.0) rotate(-90)">Relative hot electron relaxation rate</text>

<!-- translucent arrows (drawn on top) -->
<path d="M783.8 120.8 L784.2 121.3 L784.7 121.8 L785.2 122.4 L785.9 123.1 L786.6 123.9 L787.3 124.7 L788.1 125.6 L788.8 126.5 L789.6 127.4 L790.4 128.3 L791.2 129.2 L792.0 130.1 L792.7 131.0 L793.5 131.8 L794.2 132.7 L795.0 133.6 L795.8 134.5 L796.6 135.4 L797.3 136.3 L798.1 137.2 L798.9 138.2 L799.7 139.3 L800.5 140.4 L801.4 141.5 L802.2 142.8 L803.1 144.1 L804.1 145.6 L805.1 147.1 L806.1 148.6 L807.0 150.2 L808.0 151.8 L809.0 153.4 L809.9 154.9 L810.8 156.4 L811.7 157.9 L812.5 159.3 L813.2 160.5 L813.9 161.7 L814.5 162.7 L815.1 163.7 L815.6 164.6 L816.1 165.5 L816.6 166.5 L817.1 167.5 L817.6 168.6 L818.2 169.9 L818.8 171.4 L819.5 173.0 L820.2 174.9 L821.0 176.8 L821.9 178.9 L822.7 181.1 L823.6 183.4 L824.5 185.8 L825.4 188.3 L826.3 190.9 L827.2 193.5 L828.1 196.2 L829.0 198.9 L829.9 201.7 L830.8 204.6 L831.7 207.7 L832.6 211.0 L833.5 214.4 L834.4 217.9 L835.4 221.4 L836.3 225.0 L837.2 228.5 L838.1 232.0 L839.0 235.3 L839.9 238.6 L840.7 241.7 L841.5 244.6 L842.3 247.3 L843.1 250.0 L843.9 252.5 L844.6 255.0 L845.3 257.4 L846.0 259.8 L846.7 262.1 L847.4 264.5 L848.0 266.9 L848.6 269.3 L849.2 271.8 L849.7 274.5 L850.3 277.3 L850.8 280.1 L851.3 283.0 L851.8 285.9 L852.3 288.9 L852.8 291.8 L853.2 294.6 L853.6 297.4 L854.0 300.1 L854.4 302.7 L854.7 305.1 L855.0 307.3 L855.2 309.3 L855.4 311.2 L855.6 313.1 L855.7 314.8 L855.8 316.5 L855.9 318.3 L856.0 320.0 L856.1 321.8 L856.2 323.7 L856.4 325.7 L856.5 327.9 L856.6 330.2 L856.8 332.7 L856.9 335.3 L857.1 338.1 L857.2 340.9 L857.3 343.7 L857.5 346.4 L857.6 349.0 L857.7 351.3 L857.8 353.5 L857.9 355.2 L858.0 356.7 L846.5 358.1 L872.6 385.8 L888.7 353.1 L876.8 354.5 L876.6 353.2 L876.3 351.4 L875.9 349.3 L875.5 347.0 L875.1 344.4 L874.6 341.8 L874.1 339.0 L873.6 336.3 L873.1 333.5 L872.7 330.9 L872.3 328.4 L871.9 326.1 L871.6 324.1 L871.3 322.2 L871.1 320.4 L870.8 318.6 L870.6 316.9 L870.4 315.1 L870.1 313.3 L869.9 311.4 L869.6 309.5 L869.3 307.4 L868.9 305.2 L868.5 302.9 L868.1 300.5 L867.6 297.9 L867.1 295.1 L866.5 292.3 L865.9 289.4 L865.4 286.5 L864.7 283.5 L864.1 280.5 L863.5 277.5 L862.8 274.6 L862.1 271.7 L861.4 269.0 L860.7 266.3 L860.0 263.7 L859.3 261.1 L858.6 258.7 L857.9 256.2 L857.1 253.8 L856.3 251.4 L855.6 248.9 L854.8 246.4 L854.0 243.8 L853.1 241.1 L852.3 238.3 L851.4 235.3 L850.4 232.2 L849.5 228.9 L848.5 225.4 L847.5 221.9 L846.5 218.4 L845.4 214.8 L844.4 211.3 L843.3 207.9 L842.2 204.5 L841.2 201.3 L840.1 198.3 L839.1 195.4 L838.0 192.6 L836.9 189.8 L835.8 187.2 L834.7 184.6 L833.6 182.1 L832.5 179.7 L831.4 177.4 L830.4 175.3 L829.4 173.2 L828.4 171.2 L827.5 169.4 L826.7 167.7 L825.9 166.2 L825.2 164.8 L824.5 163.6 L823.8 162.5 L823.2 161.4 L822.6 160.4 L821.9 159.4 L821.2 158.5 L820.5 157.4 L819.7 156.4 L818.9 155.1 L818.0 153.8 L817.0 152.4 L815.9 151.0 L814.8 149.5 L813.7 147.9 L812.5 146.4 L811.3 144.9 L810.1 143.4 L809.0 142.0 L807.8 140.6 L806.7 139.3 L805.6 138.1 L804.6 137.0 L803.6 135.9 L802.5 134.9 L801.5 134.0 L800.5 133.1 L799.6 132.3 L798.6 131.5 L797.7 130.8 L796.7 130.0 L795.8 129.3 L794.9 128.6 L794.0 127.9 L793.1 127.2 L792.2 126.5 L791.2 125.7 L790.2 125.0 L789.2 124.3 L788.3 123.6 L787.4 123.0 L786.5 122.4 L785.8 121.8 L785.1 121.4 L784.5 120.9 L784.0 120.6 Z" fill="url(#gpk)"/>
</svg>
</body></html>
